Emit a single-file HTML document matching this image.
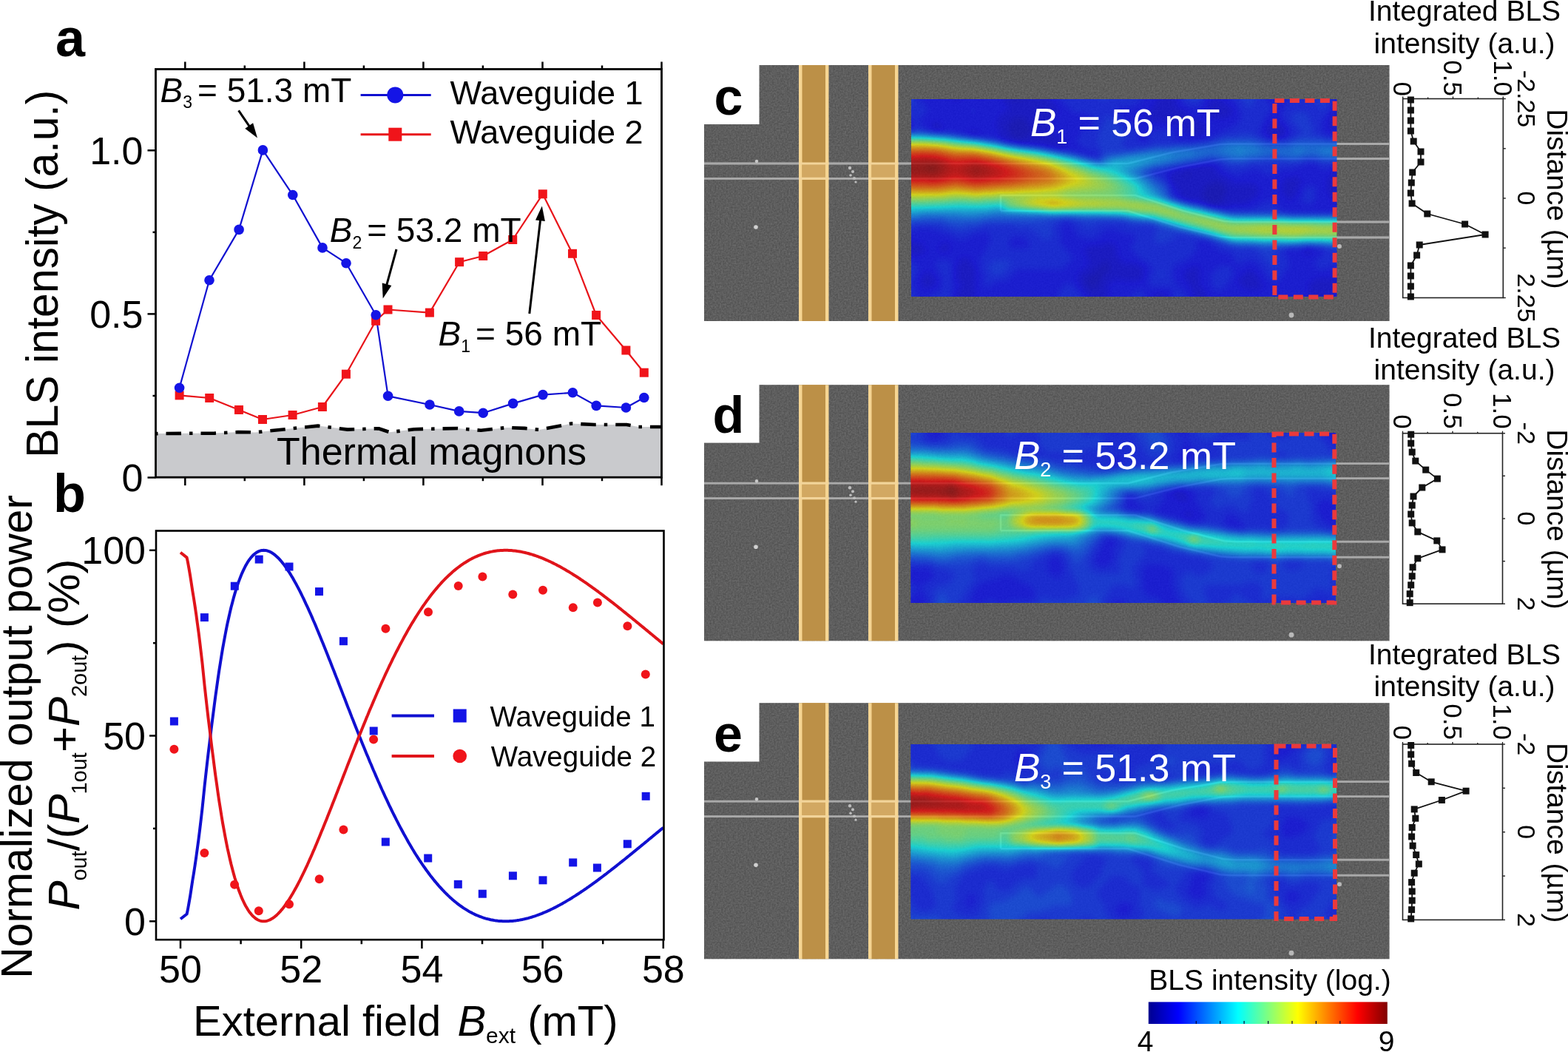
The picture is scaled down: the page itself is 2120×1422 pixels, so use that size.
<!DOCTYPE html>
<html><head><meta charset="utf-8"><title>Figure</title>
<style>html,body{margin:0;padding:0;background:#fff;}svg{display:block;}
text{font-family:'Liberation Sans', Arial, sans-serif;}</style></head>
<body><svg width="2120" height="1422" viewBox="0 0 2120 1422">
<rect width="2120" height="1422" fill="#fff"/>
<polygon points="210.5,586.1 290,585.6 322,584 345,584.4 430,575.6 470,580.6 512,579.2 527,584.3 560,580.2 572.5,579.9 618.8,579 650.3,581.8 685.7,577.9 709.4,578.9 729,580.9 760.6,575 772.4,572.5 803.9,574 847.2,574 863,577 894.5,577 894.5,645 210.5,645" fill="#c9cacd"/>
<polyline points="210.5,586.1 290,585.6 322,584 345,584.4 430,575.6 470,580.6 512,579.2 527,584.3 560,580.2 572.5,579.9 618.8,579 650.3,581.8 685.7,577.9 709.4,578.9 729,580.9 760.6,575 772.4,572.5 803.9,574 847.2,574 863,577 894.5,577" fill="none" stroke="#000" stroke-width="4.6" stroke-linejoin="round" stroke-dasharray="20.5 11 4.5 11" stroke-dashoffset="-14"/>
<text x="374" y="627.6" font-size="52">Thermal magnons</text>
<polyline points="242.6,534.4 283.2,538 323,554 355,567 395.6,561 435.9,550 467.9,505.7 508.1,433.8 524.5,418.5 580.9,422.6 621.1,354.2 653.2,346 693.2,324 733.8,262.3 774,342.8 806.1,426 846.4,473.5 870.8,503.7" fill="none" stroke="#e8141a" stroke-width="2.2" stroke-linejoin="round"/>
<polyline points="242.6,524.3 283,378.7 323.1,310.4 355.4,202.9 395.8,263.5 436,334.9 468,355.7 508.2,425.7 524.6,535.3 581,547 620.7,555.9 653.2,558.2 693.6,545.4 734,533.6 774.3,530.8 806.2,548.4 846.4,551 870.8,537.5" fill="none" stroke="#1010d0" stroke-width="2.2" stroke-linejoin="round"/>
<rect x="236.6" y="528.4" width="12" height="12" fill="#f0141a"/>
<rect x="277.2" y="532" width="12" height="12" fill="#f0141a"/>
<rect x="317" y="548" width="12" height="12" fill="#f0141a"/>
<rect x="349" y="561" width="12" height="12" fill="#f0141a"/>
<rect x="389.6" y="555" width="12" height="12" fill="#f0141a"/>
<rect x="429.9" y="544" width="12" height="12" fill="#f0141a"/>
<rect x="461.9" y="499.7" width="12" height="12" fill="#f0141a"/>
<rect x="502.1" y="427.8" width="12" height="12" fill="#f0141a"/>
<rect x="518.5" y="412.5" width="12" height="12" fill="#f0141a"/>
<rect x="574.9" y="416.6" width="12" height="12" fill="#f0141a"/>
<rect x="615.1" y="348.2" width="12" height="12" fill="#f0141a"/>
<rect x="647.2" y="340" width="12" height="12" fill="#f0141a"/>
<rect x="687.2" y="318" width="12" height="12" fill="#f0141a"/>
<rect x="727.8" y="256.3" width="12" height="12" fill="#f0141a"/>
<rect x="768" y="336.8" width="12" height="12" fill="#f0141a"/>
<rect x="800.1" y="420" width="12" height="12" fill="#f0141a"/>
<rect x="840.4" y="467.5" width="12" height="12" fill="#f0141a"/>
<rect x="864.8" y="497.7" width="12" height="12" fill="#f0141a"/>
<circle cx="242.6" cy="524.3" r="6.8" fill="#1414e6"/>
<circle cx="283" cy="378.7" r="6.8" fill="#1414e6"/>
<circle cx="323.1" cy="310.4" r="6.8" fill="#1414e6"/>
<circle cx="355.4" cy="202.9" r="6.8" fill="#1414e6"/>
<circle cx="395.8" cy="263.5" r="6.8" fill="#1414e6"/>
<circle cx="436" cy="334.9" r="6.8" fill="#1414e6"/>
<circle cx="468" cy="355.7" r="6.8" fill="#1414e6"/>
<circle cx="508.2" cy="425.7" r="6.8" fill="#1414e6"/>
<circle cx="524.6" cy="535.3" r="6.8" fill="#1414e6"/>
<circle cx="581" cy="547" r="6.8" fill="#1414e6"/>
<circle cx="620.7" cy="555.9" r="6.8" fill="#1414e6"/>
<circle cx="653.2" cy="558.2" r="6.8" fill="#1414e6"/>
<circle cx="693.6" cy="545.4" r="6.8" fill="#1414e6"/>
<circle cx="734" cy="533.6" r="6.8" fill="#1414e6"/>
<circle cx="774.3" cy="530.8" r="6.8" fill="#1414e6"/>
<circle cx="806.2" cy="548.4" r="6.8" fill="#1414e6"/>
<circle cx="846.4" cy="551" r="6.8" fill="#1414e6"/>
<circle cx="870.8" cy="537.5" r="6.8" fill="#1414e6"/>
<rect x="210.5" y="93.5" width="684" height="551.7" fill="none" stroke="#000" stroke-width="2.8"/>
<line x1="250.3" y1="645.2" x2="250.3" y2="656.2" stroke="#000" stroke-width="2.5"/>
<line x1="250.3" y1="93.5" x2="250.3" y2="83.5" stroke="#000" stroke-width="2.5"/>
<line x1="330.8" y1="645.2" x2="330.8" y2="650.2" stroke="#000" stroke-width="2.5"/>
<line x1="330.8" y1="93.5" x2="330.8" y2="88.5" stroke="#000" stroke-width="2.5"/>
<line x1="411.4" y1="645.2" x2="411.4" y2="656.2" stroke="#000" stroke-width="2.5"/>
<line x1="411.4" y1="93.5" x2="411.4" y2="83.5" stroke="#000" stroke-width="2.5"/>
<line x1="491.9" y1="645.2" x2="491.9" y2="650.2" stroke="#000" stroke-width="2.5"/>
<line x1="491.9" y1="93.5" x2="491.9" y2="88.5" stroke="#000" stroke-width="2.5"/>
<line x1="572.4" y1="645.2" x2="572.4" y2="656.2" stroke="#000" stroke-width="2.5"/>
<line x1="572.4" y1="93.5" x2="572.4" y2="83.5" stroke="#000" stroke-width="2.5"/>
<line x1="652.9" y1="645.2" x2="652.9" y2="650.2" stroke="#000" stroke-width="2.5"/>
<line x1="652.9" y1="93.5" x2="652.9" y2="88.5" stroke="#000" stroke-width="2.5"/>
<line x1="733.5" y1="645.2" x2="733.5" y2="656.2" stroke="#000" stroke-width="2.5"/>
<line x1="733.5" y1="93.5" x2="733.5" y2="83.5" stroke="#000" stroke-width="2.5"/>
<line x1="814" y1="645.2" x2="814" y2="650.2" stroke="#000" stroke-width="2.5"/>
<line x1="814" y1="93.5" x2="814" y2="88.5" stroke="#000" stroke-width="2.5"/>
<line x1="894.5" y1="645.2" x2="894.5" y2="656.2" stroke="#000" stroke-width="2.5"/>
<line x1="894.5" y1="93.5" x2="894.5" y2="83.5" stroke="#000" stroke-width="2.5"/>
<line x1="210.5" y1="645.5" x2="199.5" y2="645.5" stroke="#000" stroke-width="2.5"/>
<line x1="210.5" y1="535" x2="206.5" y2="535" stroke="#000" stroke-width="2.5"/>
<line x1="210.5" y1="424.4" x2="199.5" y2="424.4" stroke="#000" stroke-width="2.5"/>
<line x1="210.5" y1="313.9" x2="206.5" y2="313.9" stroke="#000" stroke-width="2.5"/>
<line x1="210.5" y1="203.3" x2="199.5" y2="203.3" stroke="#000" stroke-width="2.5"/>
<text x="193.5" y="221.8" font-size="52" text-anchor="end">1.0</text>
<text x="193.5" y="442.9" font-size="52" text-anchor="end">0.5</text>
<text x="193.5" y="664" font-size="52" text-anchor="end">0</text>
<line x1="487.6" y1="128.6" x2="582.7" y2="128.6" stroke="#1010d0" stroke-width="3"/>
<circle cx="534.3" cy="128.4" r="11" fill="#1414e6"/>
<line x1="487.6" y1="181.7" x2="582.7" y2="181.7" stroke="#e8141a" stroke-width="3"/>
<rect x="525.3" y="172.7" width="18" height="18" fill="#f0141a"/>
<text x="608.5" y="140.6" font-size="45">Waveguide 1</text>
<text x="608.5" y="194.2" font-size="45">Waveguide 2</text>
<text x="216.5" y="137.5" font-size="46"><tspan font-style="italic">B</tspan><tspan font-size="23" dy="8.8">3</tspan><tspan dy="-8.8" dx="7">= 51.3 mT</tspan></text>
<text x="445.7" y="326.9" font-size="46"><tspan font-style="italic">B</tspan><tspan font-size="23" dy="8.8">2</tspan><tspan dy="-8.8" dx="7">= 53.2 mT</tspan></text>
<text x="592.6" y="467.4" font-size="46"><tspan font-style="italic">B</tspan><tspan font-size="23" dy="8.8">1</tspan><tspan dy="-8.8" dx="7">= 56 mT</tspan></text>
<line x1="322.6" y1="149.4" x2="337.8" y2="171.6" stroke="#000" stroke-width="3"/>
<polygon points="348,186.5 331.3,173.7 342.1,166.3" fill="#000"/>
<line x1="536" y1="337" x2="522.5" y2="386.1" stroke="#000" stroke-width="3"/>
<polygon points="517.7,403.5 516.7,382.5 529.3,385.9" fill="#000"/>
<line x1="715.8" y1="424" x2="730.7" y2="296.4" stroke="#000" stroke-width="3"/>
<polygon points="732.8,278.5 736.9,299.1 724,297.6" fill="#000"/>
<text x="0" y="0" transform="translate(78 618.7) rotate(-90)" font-size="61" textLength="497" lengthAdjust="spacingAndGlyphs">BLS intensity (a.u.)</text>
<text x="75" y="75.5" font-size="72" font-weight="bold">a</text>
<clipPath id="cb"><rect x="211" y="717.5" width="686.5" height="552.7"/></clipPath>
<g clip-path="url(#cb)">
<polyline points="244,1242.3 252.6,1235.5 253.8,1230 255.4,1221.2 257.1,1211.3 258.7,1200.9 260.3,1190.3 262,1180.1 263.6,1169.7 265.2,1158.8 266.8,1146.9 268.5,1134.6 270.1,1121.7 271.7,1108.2 273.4,1093.6 275,1078 276.6,1062.2 278.3,1047 279.9,1032.7 281.5,1018.9 283.2,1005.4 284.8,992.1 286.4,978.9 288.1,966 289.7,953.4 291.3,941.2 293,929.3 294.6,917.9 296.2,906.9 297.9,896.3 299.5,886.1 301.1,876.4 302.8,867.2 304.4,858.5 306,850.2 307.6,842.2 309.3,834.7 310.9,827.6 312.5,820.8 314.2,814.4 315.8,808.3 317.4,802.6 319.1,797.2 320.7,792.1 322.3,787.4 324,782.9 325.6,778.7 327.2,774.8 328.9,771.1 330.5,767.8 332.1,764.6 333.8,761.8 335.4,759.1 337,756.7 338.7,754.6 340.3,752.6 341.9,750.8 343.6,749.3 345.2,748 346.8,746.8 348.4,745.9 350.1,745.1 351.7,744.5 353.3,744.1 355,743.9 356.6,743.8 358.2,743.9 359.9,744.1 361.5,744.5 363.1,745.1 364.8,745.7 366.4,746.6 368,747.5 369.7,748.6 371.3,749.8 372.9,751.2 374.6,752.7 376.2,754.2 377.8,755.9 379.5,757.8 381.1,759.7 382.7,761.7 384.4,763.8 386,766.1 387.6,768.4 389.2,770.8 390.9,773.3 392.5,775.9 394.1,778.6 395.8,781.3 397.4,784.2 399,787.1 400.7,790.1 402.3,793.1 403.9,796.2 405.6,799.4 407.2,802.7 408.8,806 410.5,809.4 412.1,812.8 413.7,816.3 415.4,819.8 417,823.4 418.6,827 420.3,830.7 421.9,834.4 423.5,838.2 425.2,842 426.8,845.8 428.4,849.7 430,853.6 431.7,857.6 433.3,861.5 434.9,865.5 436.6,869.5 438.2,873.6 439.8,877.6 441.5,881.7 443.1,885.8 444.7,889.9 446.4,894.1 448,898.2 449.6,902.4 451.3,906.6 452.9,910.7 454.5,914.9 456.2,919.1 457.8,923.3 459.4,927.5 461.1,931.7 462.7,935.9 464.3,940.1 466,944.3 467.6,948.5 469.2,952.7 470.8,956.9 472.5,961.1 474.1,965.2 475.7,969.4 477.4,973.5 479,977.7 480.6,981.8 482.3,985.9 483.9,990 485.5,994.1 487.2,998.2 488.8,1002.2 490.4,1006.2 492.1,1010.2 493.7,1014.2 495.3,1018.2 497,1022.1 498.6,1026.1 500.2,1030 501.9,1033.8 503.5,1037.7 505.1,1041.5 506.8,1045.3 508.4,1049.1 510,1052.8 511.6,1056.5 513.3,1060.2 514.9,1063.9 516.5,1067.5 518.2,1071.1 519.8,1074.6 521.4,1078.2 523.1,1081.7 524.7,1085.1 526.3,1088.6 528,1092 529.6,1095.3 531.2,1098.7 532.9,1102 534.5,1105.2 536.1,1108.4 537.8,1111.6 539.4,1114.8 541,1117.9 542.7,1121 544.3,1124 545.9,1127 547.6,1130 549.2,1132.9 550.8,1135.8 552.4,1138.7 554.1,1141.5 555.7,1144.3 557.3,1147 559,1149.7 560.6,1152.4 562.2,1155 563.9,1157.6 565.5,1160.1 567.1,1162.6 568.8,1165.1 570.4,1167.5 572,1169.9 573.7,1172.2 575.3,1174.5 576.9,1176.8 578.6,1179 580.2,1181.2 581.8,1183.4 583.5,1185.5 585.1,1187.5 586.7,1189.6 588.4,1191.6 590,1193.5 591.6,1195.4 593.2,1197.3 594.9,1199.1 596.5,1200.9 598.1,1202.7 599.8,1204.4 601.4,1206.1 603,1207.7 604.7,1209.3 606.3,1210.9 607.9,1212.4 609.6,1213.9 611.2,1215.4 612.8,1216.8 614.5,1218.2 616.1,1219.5 617.7,1220.8 619.4,1222.1 621,1223.3 622.6,1224.5 624.3,1225.7 625.9,1226.8 627.5,1227.9 629.2,1228.9 630.8,1229.9 632.4,1230.9 634,1231.9 635.7,1232.8 637.3,1233.6 638.9,1234.5 640.6,1235.3 642.2,1236.1 643.8,1236.8 645.5,1237.5 647.1,1238.2 648.7,1238.8 650.4,1239.4 652,1240 653.6,1240.6 655.3,1241.1 656.9,1241.6 658.5,1242 660.2,1242.4 661.8,1242.8 663.4,1243.2 665.1,1243.5 666.7,1243.8 668.3,1244.1 670,1244.4 671.6,1244.6 673.2,1244.8 674.8,1244.9 676.5,1245 678.1,1245.1 679.7,1245.2 681.4,1245.3 683,1245.3 684.6,1245.3 686.3,1245.3 687.9,1245.2 689.5,1245.1 691.2,1245 692.8,1244.9 694.4,1244.7 696.1,1244.6 697.7,1244.4 699.3,1244.1 701,1243.9 702.6,1243.6 704.2,1243.3 705.9,1243 707.5,1242.6 709.1,1242.3 710.8,1241.9 712.4,1241.5 714,1241.1 715.6,1240.6 717.3,1240.1 718.9,1239.7 720.5,1239.1 722.2,1238.6 723.8,1238.1 725.4,1237.5 727.1,1236.9 728.7,1236.3 730.3,1235.7 732,1235.1 733.6,1234.4 735.2,1233.7 736.9,1233 738.5,1232.3 740.1,1231.6 741.8,1230.8 743.4,1230.1 745,1229.3 746.7,1228.5 748.3,1227.7 749.9,1226.9 751.6,1226.1 753.2,1225.2 754.8,1224.3 756.4,1223.5 758.1,1222.6 759.7,1221.7 761.3,1220.7 763,1219.8 764.6,1218.9 766.2,1217.9 767.9,1216.9 769.5,1216 771.1,1215 772.8,1214 774.4,1212.9 776,1211.9 777.7,1210.9 779.3,1209.8 780.9,1208.8 782.6,1207.7 784.2,1206.6 785.8,1205.5 787.5,1204.4 789.1,1203.3 790.7,1202.2 792.4,1201.1 794,1199.9 795.6,1198.8 797.2,1197.6 798.9,1196.5 800.5,1195.3 802.1,1194.1 803.8,1193 805.4,1191.8 807,1190.6 808.7,1189.4 810.3,1188.1 811.9,1186.9 813.6,1185.7 815.2,1184.5 816.8,1183.2 818.5,1182 820.1,1180.8 821.7,1179.5 823.4,1178.2 825,1177 826.6,1175.7 828.3,1174.4 829.9,1173.2 831.5,1171.9 833.2,1170.6 834.8,1169.3 836.4,1168 838,1166.7 839.7,1165.4 841.3,1164.1 842.9,1162.8 844.6,1161.5 846.2,1160.2 847.8,1158.9 849.5,1157.5 851.1,1156.2 852.7,1154.9 854.4,1153.6 856,1152.2 857.6,1150.9 859.3,1149.6 860.9,1148.2 862.5,1146.9 864.2,1145.6 865.8,1144.2 867.4,1142.9 869.1,1141.5 870.7,1140.2 872.3,1138.9 874,1137.5 875.6,1136.2 877.2,1134.8 878.8,1133.5 880.5,1132.1 882.1,1130.8 883.7,1129.4 885.4,1128.1 887,1126.7 888.6,1125.4 890.3,1124.1 891.9,1122.7 893.5,1121.4 895.2,1120 896.8,1118.7" fill="none" stroke="#1010d0" stroke-width="4" stroke-linejoin="round"/>
<polyline points="244,746.8 252.6,753.6 253.8,759.1 255.4,767.9 257.1,777.8 258.7,788.2 260.3,798.8 262,809 263.6,819.4 265.2,830.3 266.8,842.2 268.5,854.5 270.1,867.4 271.7,880.9 273.4,895.5 275,911.1 276.6,926.9 278.3,942.1 279.9,956.4 281.5,970.2 283.2,983.7 284.8,997 286.4,1010.2 288.1,1023.1 289.7,1035.7 291.3,1047.9 293,1059.8 294.6,1071.2 296.2,1082.2 297.9,1092.8 299.5,1103 301.1,1112.7 302.8,1121.9 304.4,1130.6 306,1138.9 307.6,1146.9 309.3,1154.4 310.9,1161.5 312.5,1168.3 314.2,1174.7 315.8,1180.8 317.4,1186.5 319.1,1191.9 320.7,1197 322.3,1201.7 324,1206.2 325.6,1210.4 327.2,1214.3 328.9,1218 330.5,1221.3 332.1,1224.5 333.8,1227.3 335.4,1230 337,1232.4 338.7,1234.5 340.3,1236.5 341.9,1238.3 343.6,1239.8 345.2,1241.1 346.8,1242.3 348.4,1243.2 350.1,1244 351.7,1244.6 353.3,1245 355,1245.2 356.6,1245.3 358.2,1245.2 359.9,1245 361.5,1244.6 363.1,1244 364.8,1243.4 366.4,1242.5 368,1241.6 369.7,1240.5 371.3,1239.3 372.9,1237.9 374.6,1236.4 376.2,1234.9 377.8,1233.2 379.5,1231.3 381.1,1229.4 382.7,1227.4 384.4,1225.3 386,1223 387.6,1220.7 389.2,1218.3 390.9,1215.8 392.5,1213.2 394.1,1210.5 395.8,1207.8 397.4,1204.9 399,1202 400.7,1199 402.3,1196 403.9,1192.9 405.6,1189.7 407.2,1186.4 408.8,1183.1 410.5,1179.7 412.1,1176.3 413.7,1172.8 415.4,1169.3 417,1165.7 418.6,1162.1 420.3,1158.4 421.9,1154.7 423.5,1150.9 425.2,1147.1 426.8,1143.3 428.4,1139.4 430,1135.5 431.7,1131.5 433.3,1127.6 434.9,1123.6 436.6,1119.6 438.2,1115.5 439.8,1111.5 441.5,1107.4 443.1,1103.3 444.7,1099.2 446.4,1095 448,1090.9 449.6,1086.7 451.3,1082.5 452.9,1078.4 454.5,1074.2 456.2,1070 457.8,1065.8 459.4,1061.6 461.1,1057.4 462.7,1053.2 464.3,1049 466,1044.8 467.6,1040.6 469.2,1036.4 470.8,1032.2 472.5,1028 474.1,1023.9 475.7,1019.7 477.4,1015.6 479,1011.4 480.6,1007.3 482.3,1003.2 483.9,999.1 485.5,995 487.2,990.9 488.8,986.9 490.4,982.9 492.1,978.9 493.7,974.9 495.3,970.9 497,967 498.6,963 500.2,959.1 501.9,955.3 503.5,951.4 505.1,947.6 506.8,943.8 508.4,940 510,936.3 511.6,932.6 513.3,928.9 514.9,925.2 516.5,921.6 518.2,918 519.8,914.5 521.4,910.9 523.1,907.4 524.7,904 526.3,900.5 528,897.1 529.6,893.8 531.2,890.4 532.9,887.1 534.5,883.9 536.1,880.7 537.8,877.5 539.4,874.3 541,871.2 542.7,868.1 544.3,865.1 545.9,862.1 547.6,859.1 549.2,856.2 550.8,853.3 552.4,850.4 554.1,847.6 555.7,844.8 557.3,842.1 559,839.4 560.6,836.7 562.2,834.1 563.9,831.5 565.5,829 567.1,826.5 568.8,824 570.4,821.6 572,819.2 573.7,816.9 575.3,814.6 576.9,812.3 578.6,810.1 580.2,807.9 581.8,805.7 583.5,803.6 585.1,801.6 586.7,799.5 588.4,797.5 590,795.6 591.6,793.7 593.2,791.8 594.9,790 596.5,788.2 598.1,786.4 599.8,784.7 601.4,783 603,781.4 604.7,779.8 606.3,778.2 607.9,776.7 609.6,775.2 611.2,773.7 612.8,772.3 614.5,770.9 616.1,769.6 617.7,768.3 619.4,767 621,765.8 622.6,764.6 624.3,763.4 625.9,762.3 627.5,761.2 629.2,760.2 630.8,759.2 632.4,758.2 634,757.2 635.7,756.3 637.3,755.5 638.9,754.6 640.6,753.8 642.2,753 643.8,752.3 645.5,751.6 647.1,750.9 648.7,750.3 650.4,749.7 652,749.1 653.6,748.5 655.3,748 656.9,747.5 658.5,747.1 660.2,746.7 661.8,746.3 663.4,745.9 665.1,745.6 666.7,745.3 668.3,745 670,744.7 671.6,744.5 673.2,744.3 674.8,744.2 676.5,744.1 678.1,744 679.7,743.9 681.4,743.8 683,743.8 684.6,743.8 686.3,743.8 687.9,743.9 689.5,744 691.2,744.1 692.8,744.2 694.4,744.4 696.1,744.5 697.7,744.7 699.3,745 701,745.2 702.6,745.5 704.2,745.8 705.9,746.1 707.5,746.5 709.1,746.8 710.8,747.2 712.4,747.6 714,748 715.6,748.5 717.3,749 718.9,749.4 720.5,750 722.2,750.5 723.8,751 725.4,751.6 727.1,752.2 728.7,752.8 730.3,753.4 732,754 733.6,754.7 735.2,755.4 736.9,756.1 738.5,756.8 740.1,757.5 741.8,758.3 743.4,759 745,759.8 746.7,760.6 748.3,761.4 749.9,762.2 751.6,763 753.2,763.9 754.8,764.8 756.4,765.6 758.1,766.5 759.7,767.4 761.3,768.4 763,769.3 764.6,770.2 766.2,771.2 767.9,772.2 769.5,773.1 771.1,774.1 772.8,775.1 774.4,776.2 776,777.2 777.7,778.2 779.3,779.3 780.9,780.3 782.6,781.4 784.2,782.5 785.8,783.6 787.5,784.7 789.1,785.8 790.7,786.9 792.4,788 794,789.2 795.6,790.3 797.2,791.5 798.9,792.6 800.5,793.8 802.1,795 803.8,796.1 805.4,797.3 807,798.5 808.7,799.7 810.3,801 811.9,802.2 813.6,803.4 815.2,804.6 816.8,805.9 818.5,807.1 820.1,808.3 821.7,809.6 823.4,810.9 825,812.1 826.6,813.4 828.3,814.7 829.9,815.9 831.5,817.2 833.2,818.5 834.8,819.8 836.4,821.1 838,822.4 839.7,823.7 841.3,825 842.9,826.3 844.6,827.6 846.2,828.9 847.8,830.2 849.5,831.6 851.1,832.9 852.7,834.2 854.4,835.5 856,836.9 857.6,838.2 859.3,839.5 860.9,840.9 862.5,842.2 864.2,843.5 865.8,844.9 867.4,846.2 869.1,847.6 870.7,848.9 872.3,850.2 874,851.6 875.6,852.9 877.2,854.3 878.8,855.6 880.5,857 882.1,858.3 883.7,859.7 885.4,861 887,862.4 888.6,863.7 890.3,865 891.9,866.4 893.5,867.7 895.2,869.1 896.8,870.4" fill="none" stroke="#e0141a" stroke-width="4" stroke-linejoin="round"/>
</g>
<rect x="229.9" y="969.5" width="11" height="11" fill="#1414e6"/>
<rect x="270.9" y="829.1" width="11" height="11" fill="#1414e6"/>
<rect x="311.8" y="786.7" width="11" height="11" fill="#1414e6"/>
<rect x="344.7" y="750.6" width="11" height="11" fill="#1414e6"/>
<rect x="385.5" y="760.5" width="11" height="11" fill="#1414e6"/>
<rect x="426" y="794.1" width="11" height="11" fill="#1414e6"/>
<rect x="458.9" y="861.2" width="11" height="11" fill="#1414e6"/>
<rect x="499.7" y="982.5" width="11" height="11" fill="#1414e6"/>
<rect x="515.8" y="1132.5" width="11" height="11" fill="#1414e6"/>
<rect x="573.2" y="1154.5" width="11" height="11" fill="#1414e6"/>
<rect x="613.8" y="1189.8" width="11" height="11" fill="#1414e6"/>
<rect x="646.8" y="1202.7" width="11" height="11" fill="#1414e6"/>
<rect x="687.9" y="1178.3" width="11" height="11" fill="#1414e6"/>
<rect x="728.5" y="1184.3" width="11" height="11" fill="#1414e6"/>
<rect x="769.2" y="1160.4" width="11" height="11" fill="#1414e6"/>
<rect x="801.9" y="1167.5" width="11" height="11" fill="#1414e6"/>
<rect x="842.8" y="1135.3" width="11" height="11" fill="#1414e6"/>
<rect x="867.7" y="1070.8" width="11" height="11" fill="#1414e6"/>
<circle cx="235.4" cy="1012.8" r="6" fill="#f0141a"/>
<circle cx="276.4" cy="1153.1" r="6" fill="#f0141a"/>
<circle cx="317.1" cy="1195.7" r="6" fill="#f0141a"/>
<circle cx="349.8" cy="1231.2" r="6" fill="#f0141a"/>
<circle cx="391" cy="1222.3" r="6" fill="#f0141a"/>
<circle cx="431.7" cy="1188.3" r="6" fill="#f0141a"/>
<circle cx="464.4" cy="1121.4" r="6" fill="#f0141a"/>
<circle cx="505.1" cy="999.6" r="6" fill="#f0141a"/>
<circle cx="521.4" cy="849.8" r="6" fill="#f0141a"/>
<circle cx="579" cy="827.2" r="6" fill="#f0141a"/>
<circle cx="619.7" cy="792" r="6" fill="#f0141a"/>
<circle cx="652.4" cy="779.5" r="6" fill="#f0141a"/>
<circle cx="693.3" cy="803.4" r="6" fill="#f0141a"/>
<circle cx="734" cy="797.7" r="6" fill="#f0141a"/>
<circle cx="774.8" cy="821.3" r="6" fill="#f0141a"/>
<circle cx="807.9" cy="814.5" r="6" fill="#f0141a"/>
<circle cx="848.4" cy="846.2" r="6" fill="#f0141a"/>
<circle cx="872.8" cy="911.6" r="6" fill="#f0141a"/>
<rect x="211" y="717.5" width="686.5" height="552.7" fill="none" stroke="#000" stroke-width="2.6"/>
<line x1="244" y1="1270.2" x2="244" y2="1282.2" stroke="#000" stroke-width="2.5"/>
<text x="244" y="1327.5" font-size="52" text-anchor="middle">50</text>
<line x1="325.6" y1="1270.2" x2="325.6" y2="1276.2" stroke="#000" stroke-width="2.5"/>
<line x1="407.2" y1="1270.2" x2="407.2" y2="1282.2" stroke="#000" stroke-width="2.5"/>
<text x="407.2" y="1327.5" font-size="52" text-anchor="middle">52</text>
<line x1="488.8" y1="1270.2" x2="488.8" y2="1276.2" stroke="#000" stroke-width="2.5"/>
<line x1="570.4" y1="1270.2" x2="570.4" y2="1282.2" stroke="#000" stroke-width="2.5"/>
<text x="570.4" y="1327.5" font-size="52" text-anchor="middle">54</text>
<line x1="652" y1="1270.2" x2="652" y2="1276.2" stroke="#000" stroke-width="2.5"/>
<line x1="733.6" y1="1270.2" x2="733.6" y2="1282.2" stroke="#000" stroke-width="2.5"/>
<text x="733.6" y="1327.5" font-size="52" text-anchor="middle">56</text>
<line x1="815.2" y1="1270.2" x2="815.2" y2="1276.2" stroke="#000" stroke-width="2.5"/>
<line x1="896.8" y1="1270.2" x2="896.8" y2="1282.2" stroke="#000" stroke-width="2.5"/>
<text x="896.8" y="1327.5" font-size="52" text-anchor="middle">58</text>
<line x1="211" y1="1245.3" x2="202" y2="1245.3" stroke="#000" stroke-width="2.5"/>
<line x1="211" y1="1119.9" x2="207" y2="1119.9" stroke="#000" stroke-width="2.5"/>
<line x1="211" y1="994.5" x2="202" y2="994.5" stroke="#000" stroke-width="2.5"/>
<line x1="211" y1="869.2" x2="207" y2="869.2" stroke="#000" stroke-width="2.5"/>
<line x1="211" y1="743.8" x2="202" y2="743.8" stroke="#000" stroke-width="2.5"/>
<text x="197" y="1263.8" font-size="52" text-anchor="end">0</text>
<text x="197" y="1013" font-size="52" text-anchor="end">50</text>
<text x="197" y="762.3" font-size="52" text-anchor="end">100</text>
<line x1="529.6" y1="967.5" x2="587" y2="967.5" stroke="#1010d0" stroke-width="4"/>
<rect x="612.7" y="958.5" width="18" height="18" fill="#1414e6"/>
<line x1="529.6" y1="1022" x2="587" y2="1022" stroke="#e0141a" stroke-width="4"/>
<circle cx="621.7" cy="1022" r="9.3" fill="#f0141a"/>
<text x="662.5" y="981.6" font-size="38.5">Waveguide 1</text>
<text x="663.8" y="1035.6" font-size="38.5">Waveguide 2</text>
<text x="261" y="1400" font-size="58">External field <tspan font-style="italic" dx="6">B</tspan><tspan font-size="30" dy="10">ext</tspan><tspan dy="-10"> (mT)</tspan></text>
<text x="0" y="0" transform="translate(42.5 1322.7) rotate(-90)" font-size="60" textLength="653.7" lengthAdjust="spacingAndGlyphs">Normalized output power</text>
<text x="0" y="0" transform="translate(107 1230.6) rotate(-90)" font-size="60"><tspan font-style="italic">P</tspan><tspan font-size="29" dy="10">out</tspan><tspan dy="-10">/(</tspan><tspan font-style="italic">P</tspan><tspan font-size="29" dy="10">1out</tspan><tspan dy="-10">+</tspan><tspan font-style="italic">P</tspan><tspan font-size="29" dy="10">2out</tspan><tspan dy="-10">) (%)</tspan></text>
<text x="72" y="692" font-size="72" font-weight="bold">b</text>
<defs><filter id="jet" x="-5%" y="-5%" width="110%" height="110%" color-interpolation-filters="sRGB"><feGaussianBlur stdDeviation="4.5"/><feComponentTransfer><feFuncR type="table" tableValues="0 0 0 0 0.5 1 1 1 0.5"/><feFuncG type="table" tableValues="0 0 0.5 1 1 1 0.5 0 0"/><feFuncB type="table" tableValues="0.5 1 1 1 0.5 0 0 0 0"/><feFuncA type="linear" slope="0" intercept="1"/></feComponentTransfer></filter><linearGradient id="cbar" x1="0" x2="1" y1="0" y2="0"><stop offset="0" stop-color="#00008f"/><stop offset="0.125" stop-color="#0000ff"/><stop offset="0.375" stop-color="#00ffff"/><stop offset="0.625" stop-color="#ffff00"/><stop offset="0.875" stop-color="#ff0000"/><stop offset="1" stop-color="#800000"/></linearGradient><filter id="grain" x="0" y="0" width="100%" height="100%" color-interpolation-filters="sRGB"><feTurbulence type="fractalNoise" baseFrequency="0.45" numOctaves="2" seed="4"/><feColorMatrix type="matrix" values="1 0 0 0 0  1 0 0 0 0  1 0 0 0 0  0 0 0 0 0.16"/></filter></defs>
<rect x="952" y="88" width="926.5" height="346" fill="#575757"/>
<rect x="952" y="88" width="926.5" height="346" filter="url(#grain)"/>
<polyline points="952,221 1525,221 1585,206 1650,195 1665,194.5 1878.5,194.5" fill="none" stroke="#8e8e8e" stroke-width="2.6" stroke-linejoin="round"/>
<polyline points="952,241.4 1535,241.4 1595,226 1650,215.5 1665,214.5 1878.5,214.5" fill="none" stroke="#8e8e8e" stroke-width="2.6" stroke-linejoin="round"/>
<polyline points="1353,285 1353,264 1535,264 1600,285 1655,299 1670,300 1878.5,300" fill="none" stroke="#8e8e8e" stroke-width="2.6" stroke-linejoin="round"/>
<polyline points="1353,285 1525,285 1595,307 1650,320 1665,321 1878.5,321" fill="none" stroke="#8e8e8e" stroke-width="2.6" stroke-linejoin="round"/>
<line x1="952" y1="221" x2="1232" y2="221" stroke="#a9a9a9" stroke-width="2.8"/>
<line x1="952" y1="241.4" x2="1232" y2="241.4" stroke="#a9a9a9" stroke-width="2.8"/>
<line x1="1807" y1="194.5" x2="1878.5" y2="194.5" stroke="#a9a9a9" stroke-width="2.8"/>
<line x1="1807" y1="214.5" x2="1878.5" y2="214.5" stroke="#a9a9a9" stroke-width="2.8"/>
<line x1="1807" y1="300" x2="1878.5" y2="300" stroke="#a9a9a9" stroke-width="2.8"/>
<line x1="1807" y1="321" x2="1878.5" y2="321" stroke="#a9a9a9" stroke-width="2.8"/>
<rect x="1080" y="88" width="40.5" height="346" fill="#f6d592"/>
<rect x="1084.5" y="88" width="31.5" height="346" fill="#bc9047"/>
<rect x="1084.5" y="222" width="31.5" height="18.4" fill="#d2a862"/>
<line x1="1080" y1="221" x2="1120.5" y2="221" stroke="#f2d49a" stroke-width="3.2"/>
<line x1="1080" y1="241.4" x2="1120.5" y2="241.4" stroke="#f2d49a" stroke-width="3.2"/>
<rect x="1174" y="88" width="40.5" height="346" fill="#f6d592"/>
<rect x="1178.5" y="88" width="31.5" height="346" fill="#bc9047"/>
<rect x="1178.5" y="222" width="31.5" height="18.4" fill="#d2a862"/>
<line x1="1174" y1="221" x2="1214.5" y2="221" stroke="#f2d49a" stroke-width="3.2"/>
<line x1="1174" y1="241.4" x2="1214.5" y2="241.4" stroke="#f2d49a" stroke-width="3.2"/>
<circle cx="1022" cy="307" r="2.8" fill="#d0d0d0"/>
<circle cx="1023" cy="218" r="2.2" fill="#c8c8c8"/>
<circle cx="1149" cy="227" r="2.2" fill="#bdbdbd"/>
<circle cx="1153" cy="232" r="2" fill="#bdbdbd"/>
<circle cx="1150" cy="237" r="1.8" fill="#bdbdbd"/>
<circle cx="1155" cy="241" r="2" fill="#bdbdbd"/>
<circle cx="1157" cy="246" r="1.6" fill="#bdbdbd"/>
<circle cx="1746" cy="426" r="3.4" fill="#b8b8b8"/>
<circle cx="1811" cy="333" r="3" fill="#b8b8b8"/>
<rect x="951" y="87" width="75.5" height="81" fill="#fff"/>
<clipPath id="hc0"><rect x="1232" y="134" width="575.5" height="267"/></clipPath>
<g clip-path="url(#hc0)" opacity="0.7"><g filter="url(#jet)">
<rect x="1202" y="104" width="635.5" height="327" fill="#1a1a1a"/>
<g fill="none"><path stroke="#161616" stroke-width="4.6" d="M1362 126h32M1362 130h28M1370 134h8M1814 146h4M1814 150h4M1810 154h8M1810 158h8M1370 162h16M1366 166h24M1362 170h28M1362 174h32M1366 178h28M1366 182h28M1370 186h16M1602 234h8M1814 234h4M1602 238h4M1810 238h8M1810 242h8M1642 246h4M1806 246h12M1634 250h20M1810 250h8M1630 254h28M1814 254h4M1626 258h32M1626 262h32M1626 266h28M1630 270h24M1634 274h16M1494 354h4M1490 358h8M1486 362h16M1482 366h16M1474 370h20M1470 374h20M1466 378h24M1466 382h20M1470 386h16M1474 390h8"/><path stroke="#1b1b1b" stroke-width="4.6" d="M1286 126h16M1318 126h12M1354 126h8M1394 126h20M1566 126h24M1810 126h8M1286 130h16M1322 130h8M1354 130h8M1390 130h28M1566 130h24M1810 130h8M1286 134h12M1354 134h16M1378 134h40M1566 134h24M1638 134h8M1810 134h8M1358 138h64M1562 138h28M1634 138h20M1810 138h8M1362 142h64M1562 142h28M1634 142h24M1806 142h12M1362 146h68M1558 146h36M1630 146h36M1806 146h8M1362 150h68M1554 150h48M1630 150h36M1806 150h8M1354 154h76M1550 154h56M1630 154h36M1802 154h8M1350 158h76M1546 158h64M1634 158h28M1798 158h12M1350 162h20M1386 162h40M1546 162h76M1798 162h20M1262 166h8M1346 166h20M1390 166h32M1574 166h52M1718 166h8M1798 166h20M1258 170h16M1346 170h16M1390 170h32M1590 170h40M1714 170h20M1798 170h20M1262 174h12M1350 174h12M1394 174h28M1598 174h32M1714 174h24M1798 174h20M1306 178h16M1350 178h16M1394 178h28M1602 178h28M1710 178h28M1314 182h12M1350 182h16M1394 182h36M1606 182h24M1714 182h24M1354 186h16M1386 186h52M1614 186h4M1718 186h16M1358 190h84M1374 194h68M1414 198h28M1434 202h4M1606 226h36M1814 226h4M1590 230h56M1806 230h12M1582 234h20M1610 234h36M1802 234h12M1582 238h20M1606 238h48M1750 238h4M1798 238h12M1582 242h80M1738 242h20M1794 242h16M1582 246h60M1646 246h20M1734 246h24M1794 246h12M1586 250h48M1654 250h44M1734 250h24M1794 250h16M1590 254h40M1658 254h44M1734 254h20M1794 254h20M1594 258h32M1658 258h44M1734 258h20M1794 258h24M1594 262h32M1658 262h44M1734 262h20M1798 262h20M1594 266h32M1654 266h44M1738 266h12M1798 266h20M1602 270h28M1654 270h40M1742 270h4M1802 270h16M1622 274h12M1650 274h36M1802 274h16M1634 278h28M1806 278h12M1222 326h12M1222 330h24M1274 330h8M1490 330h16M1222 334h28M1270 334h16M1470 334h40M1222 338h28M1270 338h12M1466 338h44M1762 338h12M1222 342h28M1466 342h44M1762 342h12M1470 346h40M1298 350h12M1470 350h44M1298 354h16M1474 354h20M1498 354h20M1294 358h20M1470 358h20M1498 358h40M1294 362h24M1470 362h16M1502 362h44M1610 362h12M1294 366h24M1462 366h20M1498 366h48M1602 366h20M1686 366h8M1250 370h8M1294 370h24M1458 370h16M1494 370h52M1602 370h20M1682 370h16M1246 374h16M1294 374h24M1458 374h12M1490 374h56M1602 374h20M1678 374h24M1810 374h8M1246 378h20M1294 378h24M1458 378h8M1490 378h20M1514 378h28M1602 378h20M1674 378h28M1778 378h40M1246 382h20M1298 382h20M1458 382h8M1486 382h16M1606 382h16M1674 382h32M1770 382h48M1246 386h16M1298 386h20M1462 386h8M1486 386h12M1610 386h12M1678 386h28M1770 386h48M1250 390h4M1298 390h20M1462 390h12M1482 390h16M1610 390h16M1682 390h24M1770 390h48M1294 394h24M1466 394h32M1614 394h16M1770 394h40M1294 398h24M1470 398h28M1562 398h12M1614 398h16M1770 398h28M1294 402h24M1474 402h24M1558 402h20M1614 402h20M1766 402h28M1298 406h20M1474 406h24M1558 406h20M1614 406h24M1766 406h24M1298 410h20M1478 410h20M1554 410h24M1614 410h24M1766 410h24"/><path stroke="#212121" stroke-width="4.6" d="M1238 126h48M1302 126h16M1330 126h24M1414 126h12M1546 126h20M1590 126h4M1630 126h28M1710 126h32M1802 126h8M1238 130h48M1302 130h20M1330 130h24M1418 130h12M1546 130h20M1590 130h8M1630 130h32M1710 130h32M1802 130h8M1242 134h44M1298 134h56M1418 134h16M1542 134h24M1590 134h8M1630 134h8M1646 134h20M1710 134h32M1802 134h8M1246 138h112M1422 138h16M1542 138h20M1590 138h8M1626 138h8M1654 138h16M1714 138h28M1802 138h8M1250 142h112M1426 142h16M1534 142h28M1590 142h16M1622 142h12M1658 142h16M1718 142h20M1802 142h4M1254 146h108M1430 146h16M1510 146h48M1594 146h36M1666 146h8M1718 146h20M1798 146h8M1254 150h60M1318 150h44M1430 150h20M1510 150h44M1602 150h28M1666 150h12M1718 150h16M1798 150h8M1250 154h104M1430 154h40M1514 154h36M1606 154h24M1666 154h12M1714 154h20M1794 154h8M1246 158h104M1426 158h52M1514 158h32M1610 158h24M1662 158h16M1710 158h24M1790 158h8M1222 162h12M1242 162h108M1426 162h52M1518 162h28M1622 162h56M1710 162h28M1786 162h12M1222 166h16M1242 166h20M1270 166h76M1422 166h56M1522 166h52M1626 166h48M1706 166h12M1726 166h12M1786 166h12M1222 170h16M1246 170h12M1274 170h72M1422 170h56M1530 170h60M1630 170h40M1706 170h8M1734 170h8M1786 170h12M1222 174h12M1250 174h12M1274 174h76M1422 174h52M1534 174h64M1630 174h32M1702 174h12M1738 174h8M1786 174h12M1258 178h48M1322 178h28M1422 178h40M1538 178h20M1582 178h20M1630 178h24M1702 178h8M1738 178h8M1786 178h32M1294 182h20M1326 182h24M1430 182h32M1538 182h16M1586 182h20M1630 182h16M1706 182h8M1738 182h8M1790 182h28M1322 186h32M1438 186h20M1538 186h16M1586 186h28M1618 186h20M1710 186h8M1734 186h8M1350 190h8M1442 190h16M1538 190h16M1586 190h44M1362 194h12M1442 194h16M1398 198h16M1442 198h20M1422 202h12M1438 202h32M1446 206h36M1466 210h20M1618 222h32M1762 222h20M1810 222h8M1590 226h16M1642 226h12M1750 226h36M1798 226h16M1578 230h12M1646 230h12M1690 230h12M1730 230h76M1570 234h12M1646 234h20M1678 234h32M1722 234h80M1574 238h8M1654 238h96M1754 238h44M1578 242h4M1662 242h76M1758 242h36M1666 246h68M1758 246h36M1582 250h4M1698 250h36M1758 250h36M1582 254h8M1702 254h32M1754 254h12M1778 254h16M1582 258h12M1702 258h32M1754 258h8M1778 258h16M1582 262h12M1702 262h32M1754 262h8M1778 262h20M1586 266h8M1698 266h40M1750 266h12M1778 266h20M1594 270h8M1694 270h48M1746 270h12M1778 270h24M1610 274h12M1686 274h24M1722 274h40M1774 274h28M1626 278h8M1662 278h40M1726 278h80M1642 282h52M1730 282h88M1734 286h84M1438 302h8M1434 306h16M1238 310h24M1434 310h20M1498 310h8M1230 314h44M1326 314h8M1434 314h20M1490 314h28M1222 318h64M1314 318h24M1434 318h24M1486 318h48M1222 322h72M1306 322h32M1366 322h20M1434 322h36M1478 322h56M1234 326h104M1366 326h24M1434 326h100M1618 326h16M1246 330h28M1282 330h56M1362 330h32M1434 330h56M1506 330h24M1618 330h24M1250 334h20M1286 334h48M1366 334h24M1438 334h32M1510 334h20M1618 334h24M1762 334h16M1250 338h20M1282 338h52M1442 338h24M1510 338h20M1618 338h32M1738 338h24M1774 338h16M1250 342h80M1446 342h20M1510 342h24M1614 342h48M1738 342h24M1774 342h16M1222 346h104M1450 346h20M1510 346h28M1610 346h56M1738 346h48M1226 350h72M1310 350h16M1450 350h20M1514 350h28M1606 350h64M1742 350h40M1234 354h32M1286 354h12M1314 354h12M1446 354h28M1518 354h32M1598 354h72M1682 354h16M1742 354h36M1238 358h28M1286 358h8M1314 358h12M1442 358h28M1538 358h16M1590 358h112M1742 358h36M1806 358h12M1242 362h24M1286 362h8M1318 362h8M1438 362h32M1546 362h12M1586 362h24M1622 362h24M1666 362h40M1742 362h40M1794 362h24M1242 366h28M1286 366h8M1318 366h8M1374 366h88M1546 366h12M1586 366h16M1622 366h20M1666 366h20M1694 366h16M1738 366h80M1238 370h12M1258 370h12M1286 370h8M1318 370h12M1370 370h88M1546 370h8M1586 370h16M1622 370h16M1666 370h16M1698 370h12M1734 370h84M1238 374h8M1262 374h12M1286 374h8M1318 374h12M1366 374h92M1546 374h8M1586 374h16M1622 374h16M1666 374h12M1702 374h12M1734 374h76M1234 378h12M1266 378h8M1286 378h8M1318 378h12M1362 378h96M1510 378h4M1542 378h12M1586 378h16M1622 378h16M1662 378h12M1702 378h16M1730 378h48M1234 382h12M1266 382h8M1286 382h12M1318 382h12M1346 382h112M1502 382h52M1590 382h16M1622 382h16M1662 382h12M1706 382h64M1234 386h12M1262 386h12M1286 386h12M1318 386h12M1338 386h100M1450 386h12M1498 386h56M1590 386h20M1622 386h16M1658 386h20M1706 386h64M1234 390h16M1254 390h20M1286 390h12M1318 390h116M1454 390h8M1498 390h88M1594 390h16M1626 390h16M1654 390h28M1706 390h64M1238 394h32M1286 394h8M1318 394h116M1458 394h8M1498 394h40M1546 394h40M1598 394h16M1630 394h140M1810 394h8M1238 398h24M1286 398h8M1318 398h112M1462 398h8M1498 398h32M1546 398h16M1574 398h12M1602 398h12M1630 398h140M1798 398h20M1242 402h16M1286 402h8M1318 402h112M1462 402h12M1498 402h32M1546 402h12M1578 402h8M1606 402h8M1634 402h132M1794 402h24M1242 406h12M1286 406h12M1318 406h88M1418 406h12M1466 406h8M1498 406h28M1546 406h12M1578 406h8M1606 406h8M1638 406h32M1678 406h32M1734 406h32M1790 406h16M1242 410h12M1286 410h12M1318 410h80M1426 410h4M1466 410h12M1498 410h28M1546 410h8M1578 410h8M1606 410h8M1638 410h28M1682 410h24M1742 410h24M1790 410h12"/><path stroke="#262626" stroke-width="4.6" d="M1230 126h8M1426 126h52M1522 126h24M1594 126h8M1626 126h4M1658 126h16M1698 126h12M1742 126h40M1794 126h8M1234 130h4M1430 130h52M1502 130h44M1598 130h4M1622 130h8M1662 130h16M1698 130h12M1742 130h40M1794 130h8M1234 134h8M1434 134h56M1494 134h48M1598 134h8M1622 134h8M1666 134h12M1698 134h12M1742 134h40M1794 134h8M1234 138h12M1438 138h104M1598 138h28M1670 138h12M1694 138h20M1742 138h40M1794 138h8M1234 142h16M1442 142h92M1606 142h16M1674 142h12M1694 142h24M1738 142h44M1794 142h8M1230 146h24M1446 146h64M1674 146h44M1738 146h48M1790 146h8M1222 150h32M1314 150h4M1450 150h60M1678 150h40M1734 150h64M1222 154h28M1470 154h44M1678 154h36M1734 154h16M1766 154h28M1222 158h24M1478 158h16M1498 158h16M1678 158h32M1734 158h12M1770 158h20M1234 162h8M1478 162h16M1506 162h12M1678 162h32M1738 162h8M1770 162h16M1238 166h4M1478 166h16M1510 166h12M1674 166h32M1738 166h12M1770 166h16M1238 170h8M1478 170h12M1514 170h16M1670 170h36M1742 170h12M1774 170h12M1234 174h16M1474 174h16M1514 174h20M1662 174h40M1746 174h12M1774 174h12M1222 178h16M1246 178h12M1462 178h24M1518 178h20M1558 178h24M1654 178h48M1746 178h12M1774 178h12M1286 182h8M1462 182h24M1522 182h16M1554 182h32M1646 182h28M1694 182h12M1746 182h12M1774 182h16M1310 186h12M1458 186h28M1522 186h16M1554 186h32M1638 186h16M1698 186h12M1742 186h12M1786 186h32M1342 190h8M1458 190h24M1518 190h20M1554 190h32M1630 190h12M1710 190h32M1358 194h4M1458 194h28M1518 194h96M1386 198h12M1462 198h24M1518 198h40M1414 202h8M1470 202h20M1522 202h12M1438 206h8M1482 206h8M1458 210h8M1486 210h4M1474 214h16M1630 218h16M1762 218h20M1602 222h16M1650 222h8M1686 222h76M1782 222h28M1582 226h8M1654 226h96M1786 226h12M1558 230h20M1658 230h32M1702 230h28M1558 234h12M1666 234h12M1710 234h12M1562 238h12M1570 242h8M1574 246h8M1578 250h4M1766 254h12M1762 258h16M1762 262h16M1582 266h4M1762 266h16M1590 270h4M1758 270h20M1602 274h8M1710 274h12M1762 274h12M1622 278h4M1702 278h24M1634 282h8M1694 282h36M1654 286h80M1742 290h60M1430 298h24M1426 302h12M1446 302h16M1486 302h40M1230 306h44M1326 306h48M1422 306h12M1450 306h16M1478 306h84M1222 310h16M1262 310h24M1314 310h80M1422 310h12M1454 310h44M1506 310h60M1222 314h8M1274 314h52M1334 314h68M1422 314h12M1454 314h36M1518 314h44M1286 318h28M1338 318h68M1422 318h12M1458 318h28M1534 318h28M1590 318h28M1294 322h12M1338 322h28M1386 322h24M1418 322h16M1470 322h8M1534 322h28M1586 322h48M1338 326h28M1390 326h44M1534 326h28M1578 326h40M1634 326h8M1338 330h24M1394 330h40M1530 330h88M1642 330h12M1334 334h32M1390 334h48M1530 334h88M1642 334h28M1738 334h24M1778 334h12M1334 338h108M1530 338h88M1650 338h48M1726 338h12M1790 338h28M1330 342h116M1534 342h80M1662 342h40M1722 342h16M1790 342h28M1326 346h124M1538 346h72M1666 346h40M1726 346h12M1786 346h32M1222 350h4M1326 350h124M1542 350h64M1670 350h40M1726 350h16M1782 350h36M1222 354h12M1266 354h20M1326 354h16M1366 354h80M1550 354h48M1670 354h12M1698 354h16M1726 354h16M1778 354h40M1226 358h12M1266 358h20M1326 358h12M1366 358h76M1554 358h36M1702 358h16M1726 358h16M1778 358h28M1230 362h12M1266 362h20M1326 362h12M1362 362h76M1558 362h28M1646 362h20M1706 362h36M1782 362h12M1230 366h12M1270 366h16M1326 366h12M1358 366h16M1558 366h28M1642 366h24M1710 366h28M1230 370h8M1270 370h16M1330 370h12M1354 370h16M1554 370h12M1574 370h12M1638 370h28M1710 370h24M1230 374h8M1274 374h12M1330 374h36M1554 374h32M1638 374h28M1714 374h20M1222 378h12M1274 378h12M1330 378h32M1554 378h32M1638 378h24M1718 378h12M1222 382h12M1274 382h12M1330 382h16M1554 382h36M1638 382h24M1222 386h12M1274 386h12M1330 386h8M1438 386h12M1554 386h36M1638 386h20M1222 390h12M1274 390h12M1434 390h20M1586 390h8M1642 390h12M1222 394h16M1270 394h16M1434 394h24M1538 394h8M1586 394h12M1226 398h12M1262 398h24M1430 398h32M1530 398h16M1586 398h16M1230 402h12M1258 402h28M1430 402h32M1530 402h16M1586 402h20M1230 406h12M1254 406h32M1406 406h12M1430 406h36M1526 406h20M1586 406h20M1670 406h8M1710 406h24M1806 406h12M1234 410h8M1254 410h32M1398 410h28M1430 410h36M1526 410h20M1586 410h20M1666 410h16M1706 410h36M1802 410h16"/><path stroke="#2b2b2b" stroke-width="4.6" d="M1222 126h8M1478 126h44M1602 126h8M1618 126h8M1674 126h24M1782 126h12M1222 130h12M1482 130h20M1602 130h20M1678 130h20M1782 130h12M1222 134h12M1490 134h4M1606 134h16M1678 134h20M1782 134h12M1222 138h12M1682 138h12M1782 138h12M1222 142h12M1686 142h8M1782 142h12M1222 146h8M1786 146h4M1750 154h16M1494 158h4M1746 158h24M1494 162h12M1746 162h24M1494 166h16M1750 166h20M1490 170h24M1754 170h20M1490 174h24M1758 174h16M1238 178h8M1486 178h32M1758 178h16M1270 182h16M1486 182h36M1674 182h20M1758 182h16M1306 186h4M1486 186h36M1654 186h44M1754 186h32M1334 190h8M1482 190h36M1642 190h8M1702 190h8M1742 190h8M1794 190h24M1354 194h4M1486 194h32M1614 194h20M1378 198h8M1486 198h32M1558 198h28M1410 202h4M1490 202h32M1534 202h16M1430 206h8M1490 206h28M1454 210h4M1470 214h4M1618 218h12M1646 218h12M1690 218h72M1782 218h36M1594 222h8M1658 222h28M1570 226h12M1554 230h4M1550 234h8M1558 238h4M1562 242h8M1570 246h4M1574 250h4M1578 254h4M1578 258h4M1586 270h4M1598 274h4M1614 278h8M1630 282h4M1650 286h4M1726 290h16M1802 290h16M1434 294h16M1414 298h16M1454 298h72M1230 302h48M1326 302h100M1462 302h24M1526 302h36M1222 306h8M1274 306h20M1302 306h24M1374 306h48M1466 306h12M1562 306h12M1286 310h28M1394 310h28M1566 310h24M1402 314h20M1562 314h44M1406 318h16M1562 318h28M1618 318h4M1410 322h8M1562 322h24M1634 322h4M1562 326h16M1642 326h8M1654 330h8M1670 334h36M1718 334h20M1790 334h28M1698 338h28M1702 342h20M1706 346h20M1710 350h16M1342 354h24M1714 354h12M1222 358h4M1338 358h28M1718 358h8M1222 362h8M1338 362h24M1222 366h8M1338 366h20M1222 370h8M1342 370h12M1566 370h8M1222 374h8M1222 398h4M1222 402h8M1222 406h8M1222 410h12"/><path stroke="#313131" stroke-width="4.6" d="M1610 126h8M1258 182h12M1298 186h8M1330 190h4M1650 190h52M1750 190h44M1350 194h4M1634 194h12M1706 194h40M1374 198h4M1586 198h36M1406 202h4M1550 202h12M1426 206h4M1518 206h16M1450 210h4M1490 210h12M1466 214h4M1626 214h28M1702 214h40M1754 214h32M1482 218h8M1606 218h12M1658 218h32M1582 222h12M1558 226h12M1546 230h8M1546 234h4M1550 238h8M1558 242h4M1562 246h8M1570 250h4M1574 254h4M1574 258h4M1578 262h4M1578 266h4M1582 270h4M1594 274h4M1610 278h4M1646 286h4M1662 290h64M1402 294h32M1450 294h60M1234 298h48M1326 298h88M1526 298h16M1222 302h8M1278 302h48M1562 302h4M1294 306h8M1574 306h4M1590 310h4M1606 314h4M1622 318h4M1638 322h4M1650 326h4M1662 330h12M1766 330h8M1706 334h12"/><path stroke="#363636" stroke-width="4.6" d="M1250 182h8M1294 186h4M1326 190h4M1646 194h12M1694 194h12M1746 194h72M1370 198h4M1622 198h20M1710 198h32M1402 202h4M1562 202h20M1422 206h4M1534 206h12M1446 210h4M1502 210h16M1630 210h16M1710 210h24M1762 210h20M1462 214h4M1490 214h8M1614 214h12M1654 214h12M1682 214h20M1742 214h12M1786 214h32M1478 218h4M1594 218h12M1574 222h8M1554 226h4M1542 230h4M1542 234h4M1546 238h4M1554 242h4M1558 246h4M1562 250h8M1566 254h8M1570 258h4M1574 262h4M1574 266h4M1606 278h4M1626 282h4M1642 286h4M1658 290h4M1246 294h32M1334 294h68M1510 294h12M1222 298h12M1282 298h44M1542 298h12M1566 302h4M1578 306h8M1594 310h4M1610 314h4M1626 318h4M1642 322h4M1654 326h4M1674 330h28M1750 330h16M1774 330h16"/><path stroke="#3c3c3c" stroke-width="4.6" d="M1222 182h28M1286 186h8M1322 190h4M1346 194h4M1658 194h36M1366 198h4M1642 198h16M1698 198h12M1742 198h56M1394 202h8M1582 202h68M1702 202h48M1766 202h16M1546 206h8M1614 206h40M1702 206h48M1758 206h28M1442 210h4M1518 210h8M1614 210h16M1646 210h16M1690 210h20M1734 210h28M1782 210h16M1806 210h12M1458 214h4M1498 214h4M1598 214h16M1666 214h16M1474 218h4M1582 218h12M1562 222h12M1546 226h8M1534 230h8M1534 234h8M1542 238h4M1550 242h4M1554 246h4M1558 250h4M1562 254h4M1566 258h4M1570 262h4M1570 266h4M1578 270h4M1590 274h4M1622 282h4M1638 286h4M1346 290h64M1654 290h4M1222 294h24M1278 294h56M1522 294h4M1742 294h68M1554 298h8M1570 302h4M1586 306h4M1598 310h4M1614 314h4M1630 318h4M1658 326h4M1702 330h48M1790 330h28"/><path stroke="#414141" stroke-width="4.6" d="M1282 186h4M1314 190h8M1342 194h4M1362 198h4M1658 198h40M1798 198h20M1390 202h4M1650 202h20M1682 202h20M1750 202h16M1782 202h36M1418 206h4M1554 206h60M1654 206h20M1678 206h24M1750 206h8M1786 206h32M1438 210h4M1526 210h12M1586 210h28M1662 210h28M1798 210h8M1454 214h4M1502 214h8M1582 214h16M1470 218h4M1490 218h8M1570 218h12M1486 222h4M1554 222h8M1542 226h4M1530 230h4M1530 234h4M1538 238h4M1546 242h4M1550 246h4M1554 250h4M1558 254h4M1562 258h4M1566 262h4M1566 266h4M1602 278h4M1618 282h4M1634 286h4M1242 290h56M1322 290h24M1410 290h52M1650 290h4M1526 294h8M1730 294h12M1810 294h8M1574 302h4M1602 310h4M1618 314h4M1634 318h4M1646 322h4"/><path stroke="#474747" stroke-width="4.6" d="M1274 186h8M1310 190h4M1338 194h4M1358 198h4M1386 202h4M1670 202h12M1414 206h4M1674 206h4M1434 210h4M1538 210h48M1450 214h4M1510 214h12M1562 214h20M1466 218h4M1558 218h12M1482 222h4M1546 222h8M1534 226h8M1522 230h8M1526 234h4M1534 238h4M1542 242h4M1546 246h4M1550 250h4M1554 254h4M1558 258h4M1562 262h4M1562 266h4M1574 270h4M1586 274h4M1598 278h4M1614 282h4M1338 286h20M1630 286h4M1222 290h20M1298 290h24M1462 290h32M1534 294h4M1670 294h60M1562 298h4M1578 302h4M1590 306h4M1606 310h4M1622 314h4M1650 322h4M1662 326h8"/><path stroke="#4c4c4c" stroke-width="4.6" d="M1266 186h8M1302 190h8M1334 194h4M1354 198h4M1378 202h8M1410 206h4M1430 210h4M1522 214h40M1462 218h4M1498 218h8M1542 218h16M1478 222h4M1490 222h8M1538 222h8M1526 226h8M1518 230h4M1522 234h4M1530 238h4M1538 242h4M1542 246h4M1546 250h4M1550 254h4M1554 258h4M1558 262h4M1570 270h4M1582 274h4M1610 282h4M1242 286h96M1358 286h16M1494 290h20M1646 290h4M1538 294h8M1662 294h8M1566 298h4M1594 306h4M1610 310h4M1626 314h4M1638 318h4M1670 326h24"/><path stroke="#515151" stroke-width="4.6" d="M1258 186h8M1298 190h4M1330 194h4M1374 202h4M1406 206h4M1426 210h4M1442 214h8M1458 218h4M1506 218h36M1474 222h4M1498 222h4M1518 222h20M1514 226h12M1510 230h8M1518 234h4M1526 238h4M1534 242h4M1538 246h4M1542 250h4M1546 254h4M1550 258h4M1554 262h4M1554 266h8M1594 278h4M1338 282h20M1222 286h20M1374 286h12M1626 286h4M1514 290h8M1642 290h4M1546 294h8M1582 302h4M1598 306h4M1642 318h4M1654 322h4M1694 326h36M1758 326h36"/><path stroke="#575757" stroke-width="4.6" d="M1246 186h12M1294 190h4M1326 194h4M1350 198h4M1370 202h4M1402 206h4M1422 210h4M1438 214h4M1470 222h4M1502 222h16M1486 226h28M1506 230h4M1514 234h4M1522 238h4M1530 242h4M1534 246h4M1546 258h4M1550 262h4M1550 266h4M1566 270h4M1578 274h4M1254 282h84M1606 282h4M1386 286h16M1622 286h4M1522 290h4M1638 290h4M1554 294h8M1658 294h4M1570 298h4M1586 302h4M1614 310h4M1630 314h4M1658 322h4M1730 326h28M1794 326h24"/><path stroke="#5c5c5c" stroke-width="4.6" d="M1222 186h24M1286 190h8M1322 194h4M1346 198h4M1366 202h4M1398 206h4M1418 210h4M1434 214h4M1454 218h4M1466 222h4M1478 226h8M1498 230h8M1510 234h4M1518 238h4M1526 242h4M1530 246h4M1538 250h4M1542 254h4M1542 258h4M1542 262h8M1546 266h4M1346 278h8M1590 278h4M1222 282h32M1602 282h4M1402 286h8M1526 290h4M1654 294h4M1574 298h4M1742 298h76M1602 306h4M1618 310h4M1634 314h4M1646 318h4"/><path stroke="#626262" stroke-width="4.6" d="M1282 190h4M1318 194h4M1342 198h4M1362 202h4M1390 206h8M1414 210h4M1450 218h4M1462 222h4M1474 226h4M1490 230h8M1502 234h8M1514 238h4M1522 242h4M1526 246h4M1534 250h4M1538 254h4M1538 258h4M1538 262h4M1538 266h8M1562 270h4M1574 274h4M1278 278h68M1354 278h4M1586 278h4M1410 286h8M1618 286h4M1530 290h8M1634 290h4M1562 294h4M1650 294h4M1722 298h20M1590 302h4M1606 306h4M1622 310h4M1650 318h4M1662 322h8"/><path stroke="#676767" stroke-width="4.6" d="M1278 190h4M1310 194h8M1338 198h4M1358 202h4M1386 206h4M1410 210h4M1430 214h4M1446 218h4M1458 222h4M1470 226h4M1486 230h4M1498 234h4M1510 238h4M1518 242h4M1522 246h4M1530 250h4M1534 254h4M1534 258h4M1534 262h4M1534 266h4M1558 270h4M1222 278h56M1358 282h8M1598 282h4M1418 286h72M1614 286h4M1538 290h4M1630 290h4M1646 294h4M1578 298h4M1666 298h56M1594 302h4M1638 314h4M1670 322h20"/><path stroke="#6d6d6d" stroke-width="4.6" d="M1270 190h8M1306 194h4M1334 198h4M1382 206h4M1406 210h4M1426 214h4M1442 218h4M1454 222h4M1466 226h4M1478 230h8M1494 234h4M1502 238h8M1510 242h8M1518 246h4M1526 250h4M1530 254h4M1530 258h4M1526 262h8M1522 266h12M1550 270h8M1290 274h16M1330 274h28M1570 274h4M1582 278h4M1366 282h8M1594 282h4M1490 286h28M1610 286h4M1542 290h8M1626 290h4M1566 294h4M1582 298h4M1662 298h4M1610 306h4M1626 310h4M1642 314h4M1654 318h4M1690 322h16"/><path stroke="#727272" stroke-width="4.6" d="M1262 190h8M1298 194h8M1330 198h4M1354 202h4M1374 206h8M1402 210h4M1422 214h4M1438 218h4M1450 222h4M1462 226h4M1474 230h4M1486 234h8M1498 238h4M1506 242h4M1514 246h4M1518 250h8M1522 254h8M1522 258h8M1518 262h8M1518 266h4M1546 270h4M1266 274h24M1306 274h24M1566 274h4M1374 282h8M1518 286h4M1606 286h4M1550 290h8M1570 294h4M1642 294h4M1586 298h4M1658 298h4M1598 302h4M1614 306h4M1630 310h4M1658 318h4M1706 322h36M1754 322h64"/><path stroke="#777777" stroke-width="4.6" d="M1250 190h12M1290 194h8M1326 198h4M1350 202h4M1370 206h4M1398 210h4M1418 214h4M1434 218h4M1446 222h4M1458 226h4M1470 230h4M1482 234h4M1494 238h4M1502 242h4M1510 246h4M1514 250h4M1518 254h4M1514 258h8M1506 262h12M1510 266h8M1350 270h8M1538 270h8M1222 274h44M1358 278h4M1578 278h4M1382 282h8M1590 282h4M1522 286h8M1602 286h4M1558 290h4M1622 290h4M1574 294h4M1638 294h4M1654 298h4M1602 302h4M1782 302h36M1618 306h4M1634 310h4M1646 314h4M1662 318h4M1742 322h12"/><path stroke="#7d7d7d" stroke-width="4.6" d="M1222 190h28M1286 194h4M1322 198h4M1346 202h4M1366 206h4M1394 210h4M1414 214h4M1430 218h4M1442 222h4M1454 226h4M1466 230h4M1474 234h8M1486 238h8M1498 242h4M1502 246h8M1510 250h4M1510 254h8M1506 258h8M1478 262h28M1450 266h60M1282 270h32M1326 270h24M1358 270h4M1530 270h8M1358 274h4M1562 274h4M1362 278h8M1574 278h4M1390 282h8M1586 282h4M1530 286h8M1598 286h4M1562 290h4M1614 290h8M1578 294h4M1634 294h4M1590 298h8M1650 298h4M1606 302h4M1738 302h44M1622 306h4M1638 310h4M1650 314h4M1666 318h16"/><path stroke="#828282" stroke-width="4.6" d="M1282 194h4M1318 198h4M1342 202h4M1362 206h4M1386 210h8M1410 214h4M1426 218h4M1438 222h4M1450 226h4M1462 230h4M1470 234h4M1482 238h4M1490 242h8M1498 246h4M1502 250h8M1502 254h8M1494 258h12M1438 262h40M1438 266h12M1222 270h4M1254 270h28M1314 270h12M1362 270h8M1522 270h8M1362 274h4M1554 274h8M1370 278h4M1570 278h4M1398 282h8M1506 282h4M1582 282h4M1538 286h8M1594 286h4M1566 290h4M1606 290h8M1582 294h4M1626 294h8M1598 298h4M1646 298h4M1610 302h8M1662 302h76M1626 306h4M1642 310h4M1654 314h4M1682 318h20"/><path stroke="#888888" stroke-width="4.6" d="M1274 194h8M1310 198h8M1338 202h4M1358 206h4M1382 210h4M1406 214h4M1422 218h4M1434 222h4M1446 226h4M1458 230h4M1466 234h4M1474 238h8M1482 242h8M1490 246h8M1494 250h8M1490 254h12M1462 258h32M1430 262h8M1346 266h52M1426 266h12M1226 270h28M1370 270h4M1514 270h8M1366 274h8M1542 274h12M1374 278h8M1566 278h4M1406 282h8M1454 282h52M1510 282h16M1578 282h4M1546 286h16M1586 286h8M1570 290h8M1594 290h12M1586 294h40M1602 298h12M1634 298h12M1618 302h8M1654 302h8M1630 306h8M1646 310h4M1658 314h8M1702 318h32M1762 318h56"/><path stroke="#8d8d8d" stroke-width="4.6" d="M1266 194h8M1298 198h12M1334 202h4M1354 206h4M1374 210h8M1398 214h8M1418 218h4M1430 222h4M1442 226h4M1454 230h4M1462 234h4M1470 238h4M1478 242h4M1482 246h8M1482 250h12M1474 254h16M1442 258h20M1410 262h20M1278 266h36M1326 266h20M1398 266h28M1374 270h8M1486 270h28M1374 274h4M1522 274h20M1382 278h4M1546 278h20M1414 282h8M1430 282h24M1526 282h52M1562 286h24M1578 290h16M1614 298h20M1626 302h28M1638 306h52M1770 306h48M1650 310h20M1666 314h24M1734 318h28"/><path stroke="#929292" stroke-width="4.6" d="M1254 194h12M1290 198h8M1330 202h4M1350 206h4M1370 210h4M1394 214h4M1414 218h4M1426 222h4M1438 226h4M1446 230h8M1458 234h4M1466 238h4M1470 242h8M1474 246h8M1470 250h12M1454 254h20M1434 258h8M1378 262h32M1222 266h56M1314 266h12M1382 270h4M1458 270h28M1378 274h8M1498 274h24M1386 278h8M1486 278h60M1422 282h8M1690 306h80M1670 310h32M1774 310h44M1690 314h36M1762 314h56"/><path stroke="#989898" stroke-width="4.6" d="M1222 194h32M1282 198h8M1322 202h8M1346 206h4M1366 210h4M1386 214h8M1406 218h8M1422 222h4M1434 226h4M1442 230h4M1450 234h8M1458 238h8M1466 242h4M1466 246h8M1458 250h12M1442 254h12M1422 258h12M1290 262h8M1346 262h32M1386 270h8M1450 270h8M1386 274h4M1466 274h32M1394 278h8M1462 278h24M1702 310h72M1726 314h36"/><path stroke="#9d9d9d" stroke-width="4.6" d="M1278 198h4M1318 202h4M1342 206h4M1362 210h4M1382 214h4M1402 218h4M1418 222h4M1430 226h4M1438 230h4M1446 234h4M1454 238h4M1458 242h8M1458 246h8M1446 250h12M1434 254h8M1398 258h24M1278 262h12M1298 262h16M1326 262h20M1394 270h4M1438 270h12M1390 274h8M1454 274h12M1402 278h8M1446 278h16"/><path stroke="#a3a3a3" stroke-width="4.6" d="M1270 198h8M1298 202h20M1338 206h4M1354 210h8M1374 214h8M1394 218h8M1414 222h4M1426 226h4M1434 230h4M1442 234h4M1446 238h8M1450 242h8M1446 246h12M1438 250h8M1426 254h8M1374 258h24M1222 262h56M1314 262h12M1398 270h20M1430 270h8M1398 274h8M1442 274h12M1410 278h8M1434 278h12"/><path stroke="#a8a8a8" stroke-width="4.6" d="M1258 198h12M1286 202h12M1330 206h8M1350 210h4M1370 214h4M1390 218h4M1406 222h8M1422 226h4M1430 230h4M1438 234h4M1442 238h4M1442 242h8M1438 246h8M1430 250h8M1410 254h16M1286 258h12M1346 258h28M1418 270h12M1406 274h12M1430 274h12M1418 278h16"/><path stroke="#aeaeae" stroke-width="4.6" d="M1222 198h36M1282 202h4M1326 206h4M1346 210h4M1362 214h8M1382 218h8M1402 222h4M1418 226h4M1426 230h4M1434 234h4M1438 238h4M1438 242h4M1434 246h4M1422 250h8M1386 254h24M1274 258h12M1298 258h16M1326 258h20M1418 274h12"/><path stroke="#b3b3b3" stroke-width="4.6" d="M1274 202h8M1314 206h12M1342 210h4M1358 214h4M1374 218h8M1394 222h8M1410 226h8M1422 230h4M1426 234h8M1430 238h8M1430 242h8M1426 246h8M1410 250h12M1366 254h20M1222 258h52M1314 258h12"/><path stroke="#b8b8b8" stroke-width="4.6" d="M1270 202h4M1290 206h24M1334 210h8M1354 214h4M1370 218h4M1386 222h8M1402 226h8M1414 230h8M1422 234h4M1426 238h4M1426 242h4M1418 246h8M1390 250h20M1282 254h24M1342 254h24"/><path stroke="#bebebe" stroke-width="4.6" d="M1226 202h44M1282 206h8M1326 210h8M1346 214h8M1362 218h8M1378 222h8M1394 226h8M1410 230h4M1418 234h4M1422 238h4M1418 242h8M1402 246h16M1374 250h16M1222 254h12M1270 254h12M1306 254h12M1322 254h20"/><path stroke="#c3c3c3" stroke-width="4.6" d="M1222 202h4M1274 206h8M1322 210h4M1342 214h4M1358 218h4M1374 222h4M1386 226h8M1398 230h12M1410 234h8M1410 238h12M1402 242h16M1386 246h16M1286 250h12M1354 250h20M1234 254h36M1318 254h4"/><path stroke="#c9c9c9" stroke-width="4.6" d="M1266 206h8M1286 210h36M1334 214h8M1354 218h4M1366 222h8M1382 226h4M1390 230h8M1398 234h12M1398 238h12M1390 242h12M1374 246h12M1274 250h12M1298 250h12M1334 250h20"/><path stroke="#cecece" stroke-width="4.6" d="M1222 206h44M1278 210h8M1326 214h8M1346 218h8M1362 222h4M1374 226h8M1382 230h8M1390 234h8M1386 238h12M1378 242h12M1290 246h4M1358 246h16M1222 250h52M1310 250h24"/><path stroke="#d4d4d4" stroke-width="4.6" d="M1270 210h8M1286 214h40M1338 218h8M1354 222h8M1366 226h8M1374 230h8M1378 234h12M1378 238h8M1366 242h12M1278 246h12M1294 246h12M1338 246h20"/><path stroke="#d9d9d9" stroke-width="4.6" d="M1222 210h16M1254 210h16M1278 214h8M1290 218h4M1330 218h8M1346 222h8M1358 226h8M1366 230h8M1370 234h8M1366 238h12M1286 242h12M1354 242h12M1222 246h32M1266 246h12M1306 246h12M1322 246h16"/><path stroke="#dedede" stroke-width="4.6" d="M1238 210h16M1270 214h8M1282 218h8M1294 218h20M1322 218h8M1338 222h8M1350 226h8M1358 230h8M1362 234h8M1290 238h4M1354 238h12M1278 242h8M1298 242h12M1334 242h20M1254 246h12M1318 246h4"/><path stroke="#e4e4e4" stroke-width="4.6" d="M1222 214h24M1258 214h12M1278 218h4M1314 218h8M1286 222h20M1330 222h8M1290 226h4M1342 226h8M1350 230h8M1290 234h4M1350 234h12M1282 238h8M1294 238h12M1342 238h12M1222 242h36M1266 242h12M1310 242h24"/><path stroke="#e9e9e9" stroke-width="4.6" d="M1246 214h12M1270 218h8M1278 222h8M1306 222h24M1282 226h8M1294 226h12M1334 226h8M1282 230h20M1338 230h12M1278 234h12M1294 234h12M1338 234h12M1270 238h12M1306 238h8M1326 238h16M1258 242h8"/><path stroke="#efefef" stroke-width="4.6" d="M1222 218h48M1270 222h8M1274 226h8M1306 226h12M1322 226h12M1274 230h8M1302 230h12M1326 230h12M1270 234h8M1306 234h12M1322 234h16M1222 238h48M1314 238h12"/><path stroke="#f4f4f4" stroke-width="4.6" d="M1222 222h48M1222 226h28M1266 226h8M1318 226h4M1222 230h32M1266 230h8M1314 230h12M1222 234h48M1318 234h4"/><path stroke="#fafafa" stroke-width="4.6" d="M1250 226h16M1254 230h12"/></g>
</g></g>
<rect x="1723.4" y="136" width="81.2" height="265.5" fill="none" stroke="#ea3a3c" stroke-width="6" stroke-dasharray="13 7.5"/>
<text x="1393" y="184" font-size="53" fill="#fff"><tspan font-style="italic">B</tspan><tspan font-size="27" dy="10">1</tspan><tspan dy="-10" dx="14" font-size="52">= 56 mT</tspan></text>
<rect x="952" y="520.2" width="926.5" height="346" fill="#575757"/>
<rect x="952" y="520.2" width="926.5" height="346" filter="url(#grain)"/>
<polyline points="952,653.2 1525,653.2 1585,638.2 1650,627.2 1665,626.7 1878.5,626.7" fill="none" stroke="#8e8e8e" stroke-width="2.6" stroke-linejoin="round"/>
<polyline points="952,673.6 1535,673.6 1595,658.2 1650,647.7 1665,646.7 1878.5,646.7" fill="none" stroke="#8e8e8e" stroke-width="2.6" stroke-linejoin="round"/>
<polyline points="1353,717.2 1353,696.2 1535,696.2 1600,717.2 1655,731.2 1670,732.2 1878.5,732.2" fill="none" stroke="#8e8e8e" stroke-width="2.6" stroke-linejoin="round"/>
<polyline points="1353,717.2 1525,717.2 1595,739.2 1650,752.2 1665,753.2 1878.5,753.2" fill="none" stroke="#8e8e8e" stroke-width="2.6" stroke-linejoin="round"/>
<line x1="952" y1="653.2" x2="1232" y2="653.2" stroke="#a9a9a9" stroke-width="2.8"/>
<line x1="952" y1="673.6" x2="1232" y2="673.6" stroke="#a9a9a9" stroke-width="2.8"/>
<line x1="1807" y1="626.7" x2="1878.5" y2="626.7" stroke="#a9a9a9" stroke-width="2.8"/>
<line x1="1807" y1="646.7" x2="1878.5" y2="646.7" stroke="#a9a9a9" stroke-width="2.8"/>
<line x1="1807" y1="732.2" x2="1878.5" y2="732.2" stroke="#a9a9a9" stroke-width="2.8"/>
<line x1="1807" y1="753.2" x2="1878.5" y2="753.2" stroke="#a9a9a9" stroke-width="2.8"/>
<rect x="1080" y="520.2" width="40.5" height="346" fill="#f6d592"/>
<rect x="1084.5" y="520.2" width="31.5" height="346" fill="#bc9047"/>
<rect x="1084.5" y="654.2" width="31.5" height="18.4" fill="#d2a862"/>
<line x1="1080" y1="653.2" x2="1120.5" y2="653.2" stroke="#f2d49a" stroke-width="3.2"/>
<line x1="1080" y1="673.6" x2="1120.5" y2="673.6" stroke="#f2d49a" stroke-width="3.2"/>
<rect x="1174" y="520.2" width="40.5" height="346" fill="#f6d592"/>
<rect x="1178.5" y="520.2" width="31.5" height="346" fill="#bc9047"/>
<rect x="1178.5" y="654.2" width="31.5" height="18.4" fill="#d2a862"/>
<line x1="1174" y1="653.2" x2="1214.5" y2="653.2" stroke="#f2d49a" stroke-width="3.2"/>
<line x1="1174" y1="673.6" x2="1214.5" y2="673.6" stroke="#f2d49a" stroke-width="3.2"/>
<circle cx="1022" cy="739.2" r="2.8" fill="#d0d0d0"/>
<circle cx="1023" cy="650.2" r="2.2" fill="#c8c8c8"/>
<circle cx="1149" cy="659.2" r="2.2" fill="#bdbdbd"/>
<circle cx="1153" cy="664.2" r="2" fill="#bdbdbd"/>
<circle cx="1150" cy="669.2" r="1.8" fill="#bdbdbd"/>
<circle cx="1155" cy="673.2" r="2" fill="#bdbdbd"/>
<circle cx="1157" cy="678.2" r="1.6" fill="#bdbdbd"/>
<circle cx="1746" cy="858.2" r="3.4" fill="#b8b8b8"/>
<circle cx="1811" cy="765.2" r="3" fill="#b8b8b8"/>
<rect x="951" y="519.2" width="75.5" height="79.4" fill="#fff"/>
<clipPath id="hc1"><rect x="1231.3" y="585" width="574.7" height="230"/></clipPath>
<g clip-path="url(#hc1)" opacity="0.7"><g filter="url(#jet)">
<rect x="1201.3" y="555" width="634.7" height="290" fill="#1a1a1a"/>
<g fill="none"><path stroke="#1b1b1b" stroke-width="4.6" d="M1585.3 665h16M1585.3 669h20M1589.3 673h16M1597.3 677h8M1601.3 693h12M1601.3 697h12M1237.3 817h8M1233.3 821h12M1229.3 825h16"/><path stroke="#212121" stroke-width="4.6" d="M1257.3 577h16M1497.3 577h16M1585.3 577h20M1665.3 577h16M1721.3 577h20M1793.3 577h24M1257.3 581h16M1501.3 581h12M1589.3 581h16M1669.3 581h8M1721.3 581h16M1793.3 581h24M1257.3 585h16M1505.3 585h4M1593.3 585h12M1793.3 585h24M1253.3 589h20M1597.3 589h8M1793.3 589h24M1257.3 593h12M1601.3 593h4M1797.3 593h20M1601.3 597h4M1801.3 597h16M1601.3 601h8M1805.3 601h12M1385.3 605h4M1597.3 605h16M1809.3 605h8M1597.3 609h20M1593.3 613h24M1505.3 617h8M1593.3 617h20M1501.3 621h16M1589.3 621h24M1497.3 625h16M1501.3 629h8M1585.3 661h24M1573.3 665h12M1601.3 665h16M1573.3 669h12M1605.3 669h12M1521.3 673h8M1573.3 673h16M1605.3 673h12M1521.3 677h12M1573.3 677h24M1605.3 677h12M1785.3 677h16M1521.3 681h16M1569.3 681h52M1781.3 681h28M1521.3 685h24M1565.3 685h56M1781.3 685h36M1521.3 689h28M1557.3 689h68M1781.3 689h36M1561.3 693h40M1613.3 693h16M1781.3 693h36M1573.3 697h28M1613.3 697h16M1657.3 697h12M1785.3 697h32M1589.3 701h40M1657.3 701h16M1785.3 701h32M1601.3 705h24M1653.3 705h24M1789.3 705h28M1657.3 709h24M1797.3 709h20M1661.3 713h20M1801.3 713h16M1493.3 729h16M1493.3 733h16M1489.3 737h20M1489.3 741h16M1485.3 745h20M1485.3 749h20M1421.3 753h12M1481.3 753h24M1417.3 757h16M1481.3 757h24M1417.3 761h20M1481.3 761h20M1417.3 765h20M1485.3 765h12M1549.3 765h24M1229.3 769h28M1417.3 769h20M1545.3 769h40M1221.3 773h40M1417.3 773h20M1545.3 773h40M1221.3 777h40M1421.3 777h12M1545.3 777h40M1221.3 781h40M1349.3 781h24M1429.3 781h4M1545.3 781h40M1221.3 785h36M1337.3 785h40M1545.3 785h40M1233.3 789h16M1325.3 789h60M1545.3 789h40M1241.3 793h4M1321.3 793h72M1545.3 793h40M1241.3 797h4M1317.3 797h80M1545.3 797h44M1237.3 801h12M1317.3 801h80M1549.3 801h40M1233.3 805h16M1313.3 805h84M1553.3 805h36M1221.3 809h32M1313.3 809h84M1565.3 809h28M1221.3 813h32M1313.3 813h20M1345.3 813h20M1505.3 813h16M1569.3 813h24M1777.3 813h16M1221.3 817h16M1245.3 817h8M1313.3 817h12M1501.3 817h20M1573.3 817h24M1765.3 817h36M1221.3 821h12M1245.3 821h8M1501.3 821h20M1577.3 821h24M1725.3 821h80M1221.3 825h8M1245.3 825h8M1501.3 825h20M1577.3 825h28M1725.3 825h84"/><path stroke="#262626" stroke-width="4.6" d="M1249.3 577h8M1273.3 577h88M1377.3 577h24M1461.3 577h36M1513.3 577h20M1573.3 577h12M1605.3 577h12M1653.3 577h12M1681.3 577h8M1709.3 577h12M1741.3 577h12M1785.3 577h8M1249.3 581h8M1273.3 581h88M1377.3 581h24M1461.3 581h40M1513.3 581h20M1577.3 581h12M1605.3 581h12M1649.3 581h20M1677.3 581h12M1709.3 581h12M1737.3 581h16M1781.3 581h12M1249.3 585h8M1273.3 585h12M1293.3 585h68M1373.3 585h28M1461.3 585h44M1509.3 585h24M1577.3 585h16M1605.3 585h12M1649.3 585h40M1709.3 585h40M1781.3 585h12M1245.3 589h8M1273.3 589h12M1301.3 589h60M1369.3 589h36M1465.3 589h8M1489.3 589h44M1581.3 589h16M1605.3 589h16M1645.3 589h44M1717.3 589h28M1781.3 589h12M1245.3 593h12M1269.3 593h16M1321.3 593h84M1493.3 593h44M1585.3 593h16M1605.3 593h20M1637.3 593h52M1729.3 593h4M1785.3 593h12M1249.3 597h28M1325.3 597h80M1493.3 597h44M1585.3 597h16M1605.3 597h56M1789.3 597h12M1329.3 601h76M1493.3 601h48M1585.3 601h16M1609.3 601h44M1793.3 601h12M1333.3 605h52M1389.3 605h20M1489.3 605h56M1585.3 605h12M1613.3 605h36M1797.3 605h12M1357.3 609h56M1465.3 609h80M1585.3 609h12M1617.3 609h32M1797.3 609h20M1369.3 613h68M1461.3 613h88M1581.3 613h12M1617.3 613h36M1725.3 613h12M1801.3 613h16M1385.3 617h60M1457.3 617h48M1513.3 617h40M1569.3 617h24M1613.3 617h44M1725.3 617h12M1809.3 617h8M1421.3 621h80M1517.3 621h72M1613.3 621h32M1453.3 625h44M1513.3 625h100M1469.3 629h32M1509.3 629h68M1485.3 633h32M1577.3 661h8M1609.3 661h32M1693.3 661h16M1769.3 661h12M1565.3 665h8M1617.3 665h24M1693.3 665h20M1765.3 665h40M1521.3 669h16M1561.3 669h12M1617.3 669h24M1693.3 669h24M1769.3 669h48M1529.3 673h12M1557.3 673h16M1617.3 673h20M1693.3 673h24M1769.3 673h48M1533.3 677h40M1617.3 677h20M1693.3 677h28M1769.3 677h16M1801.3 677h16M1537.3 681h32M1621.3 681h16M1689.3 681h32M1773.3 681h8M1809.3 681h8M1517.3 685h4M1545.3 685h20M1621.3 685h20M1653.3 685h16M1689.3 685h36M1773.3 685h8M1517.3 689h4M1549.3 689h8M1625.3 689h52M1689.3 689h44M1773.3 689h8M1529.3 693h32M1629.3 693h112M1773.3 693h8M1561.3 697h12M1629.3 697h28M1669.3 697h72M1773.3 697h12M1577.3 701h12M1629.3 701h28M1673.3 701h68M1773.3 701h12M1593.3 705h8M1625.3 705h28M1677.3 705h64M1773.3 705h16M1605.3 709h52M1681.3 709h60M1777.3 709h20M1649.3 713h12M1681.3 713h56M1781.3 713h20M1669.3 717h16M1717.3 717h8M1793.3 717h24M1493.3 725h16M1489.3 729h4M1509.3 729h8M1485.3 733h8M1509.3 733h12M1485.3 737h4M1509.3 737h12M1545.3 737h8M1481.3 741h8M1505.3 741h12M1549.3 741h24M1477.3 745h8M1505.3 745h12M1549.3 745h32M1417.3 749h20M1477.3 749h8M1505.3 749h12M1549.3 749h56M1409.3 753h12M1433.3 753h8M1473.3 753h8M1505.3 753h8M1545.3 753h80M1401.3 757h16M1433.3 757h8M1473.3 757h8M1505.3 757h8M1541.3 757h92M1397.3 761h20M1437.3 761h8M1473.3 761h8M1501.3 761h12M1537.3 761h100M1693.3 761h20M1737.3 761h24M1221.3 765h40M1321.3 765h12M1393.3 765h24M1437.3 765h8M1473.3 765h12M1497.3 765h16M1533.3 765h16M1573.3 765h68M1693.3 765h20M1737.3 765h24M1805.3 765h12M1221.3 769h8M1257.3 769h20M1317.3 769h56M1393.3 769h24M1437.3 769h8M1473.3 769h40M1533.3 769h12M1585.3 769h52M1693.3 769h20M1741.3 769h12M1801.3 769h16M1261.3 773h24M1317.3 773h100M1437.3 773h12M1481.3 773h32M1533.3 773h12M1585.3 773h20M1609.3 773h24M1697.3 773h12M1801.3 773h16M1261.3 777h28M1317.3 777h104M1433.3 777h16M1533.3 777h12M1585.3 777h16M1617.3 777h8M1801.3 777h16M1261.3 781h28M1317.3 781h32M1373.3 781h56M1433.3 781h20M1533.3 781h12M1585.3 781h12M1801.3 781h16M1257.3 785h28M1317.3 785h20M1377.3 785h76M1537.3 785h8M1585.3 785h12M1801.3 785h16M1221.3 789h12M1249.3 789h32M1313.3 789h12M1385.3 789h72M1537.3 789h8M1585.3 789h12M1685.3 789h16M1801.3 789h16M1221.3 793h20M1245.3 793h24M1309.3 793h12M1393.3 793h64M1505.3 793h20M1533.3 793h12M1585.3 793h12M1629.3 793h76M1801.3 793h16M1221.3 797h20M1245.3 797h16M1309.3 797h8M1397.3 797h60M1501.3 797h44M1589.3 797h8M1629.3 797h76M1777.3 797h12M1801.3 797h16M1221.3 801h16M1249.3 801h12M1305.3 801h12M1397.3 801h60M1497.3 801h52M1589.3 801h12M1629.3 801h76M1773.3 801h44M1221.3 805h12M1249.3 805h12M1301.3 805h12M1397.3 805h60M1497.3 805h56M1589.3 805h12M1629.3 805h36M1677.3 805h28M1769.3 805h48M1253.3 809h8M1301.3 809h12M1397.3 809h12M1417.3 809h28M1493.3 809h72M1593.3 809h12M1633.3 809h32M1681.3 809h24M1717.3 809h36M1761.3 809h56M1253.3 813h8M1297.3 813h16M1333.3 813h12M1365.3 813h40M1493.3 813h12M1521.3 813h48M1593.3 813h16M1633.3 813h28M1689.3 813h88M1793.3 813h24M1253.3 817h8M1297.3 817h16M1325.3 817h76M1493.3 817h8M1521.3 817h24M1549.3 817h24M1597.3 817h16M1633.3 817h20M1693.3 817h72M1801.3 817h16M1253.3 821h8M1293.3 821h80M1493.3 821h8M1521.3 821h16M1561.3 821h16M1601.3 821h20M1633.3 821h16M1697.3 821h28M1805.3 821h12M1253.3 825h8M1293.3 825h76M1493.3 825h8M1521.3 825h12M1561.3 825h16M1605.3 825h20M1633.3 825h12M1701.3 825h24M1809.3 825h8"/><path stroke="#2b2b2b" stroke-width="4.6" d="M1241.3 577h8M1361.3 577h16M1401.3 577h60M1533.3 577h12M1565.3 577h8M1617.3 577h36M1689.3 577h20M1753.3 577h12M1773.3 577h12M1241.3 581h8M1361.3 581h16M1401.3 581h60M1533.3 581h12M1569.3 581h8M1617.3 581h32M1689.3 581h20M1753.3 581h12M1773.3 581h8M1221.3 585h4M1237.3 585h12M1285.3 585h8M1361.3 585h12M1401.3 585h60M1533.3 585h16M1569.3 585h8M1617.3 585h32M1689.3 585h20M1749.3 585h32M1221.3 589h24M1285.3 589h16M1361.3 589h8M1405.3 589h60M1473.3 589h16M1533.3 589h16M1573.3 589h8M1621.3 589h24M1689.3 589h28M1745.3 589h36M1221.3 593h24M1285.3 593h36M1405.3 593h88M1537.3 593h12M1573.3 593h12M1625.3 593h12M1689.3 593h40M1733.3 593h52M1233.3 597h16M1277.3 597h48M1405.3 597h88M1537.3 597h16M1577.3 597h8M1661.3 597h128M1249.3 601h36M1317.3 601h12M1405.3 601h88M1541.3 601h12M1577.3 601h8M1653.3 601h140M1321.3 605h12M1409.3 605h80M1545.3 605h12M1573.3 605h12M1649.3 605h148M1329.3 609h28M1413.3 609h52M1545.3 609h40M1649.3 609h148M1345.3 613h24M1437.3 613h24M1549.3 613h32M1653.3 613h72M1737.3 613h64M1365.3 617h20M1445.3 617h12M1553.3 617h16M1657.3 617h68M1737.3 617h72M1389.3 621h32M1645.3 621h52M1717.3 621h32M1761.3 621h12M1417.3 625h36M1613.3 625h16M1429.3 629h40M1577.3 629h24M1453.3 633h32M1517.3 633h24M1481.3 637h24M1593.3 657h52M1689.3 657h32M1757.3 657h36M1569.3 661h8M1641.3 661h16M1681.3 661h12M1709.3 661h24M1749.3 661h20M1781.3 661h36M1521.3 665h12M1553.3 665h12M1641.3 665h16M1681.3 665h12M1713.3 665h24M1749.3 665h16M1805.3 665h12M1537.3 669h24M1641.3 669h20M1677.3 669h16M1717.3 669h24M1749.3 669h20M1541.3 673h16M1637.3 673h56M1717.3 673h52M1517.3 677h4M1637.3 677h56M1721.3 677h48M1513.3 681h8M1637.3 681h52M1721.3 681h52M1509.3 685h8M1641.3 685h12M1669.3 685h20M1725.3 685h48M1509.3 689h8M1677.3 689h12M1733.3 689h40M1521.3 693h8M1741.3 693h32M1557.3 697h4M1741.3 697h32M1569.3 701h8M1741.3 701h32M1585.3 705h8M1741.3 705h32M1601.3 709h4M1741.3 709h36M1637.3 713h12M1737.3 713h44M1657.3 717h12M1685.3 717h32M1725.3 717h68M1809.3 721h8M1489.3 725h4M1509.3 725h4M1485.3 729h4M1517.3 729h12M1481.3 733h4M1521.3 733h32M1477.3 737h8M1521.3 737h24M1553.3 737h20M1473.3 741h8M1517.3 741h32M1573.3 741h12M1417.3 745h20M1473.3 745h4M1517.3 745h32M1581.3 745h20M1405.3 749h12M1437.3 749h8M1469.3 749h8M1517.3 749h32M1605.3 749h20M1393.3 753h16M1441.3 753h8M1465.3 753h8M1513.3 753h32M1625.3 753h28M1221.3 757h16M1321.3 757h12M1381.3 757h20M1441.3 757h8M1461.3 757h12M1513.3 757h28M1633.3 757h88M1729.3 757h68M1221.3 761h44M1309.3 761h88M1445.3 761h8M1457.3 761h16M1513.3 761h24M1637.3 761h56M1713.3 761h24M1761.3 761h56M1261.3 765h60M1333.3 765h60M1445.3 765h28M1513.3 765h20M1641.3 765h52M1713.3 765h24M1761.3 765h44M1277.3 769h40M1373.3 769h20M1445.3 769h28M1513.3 769h20M1637.3 769h56M1713.3 769h28M1753.3 769h48M1285.3 773h32M1449.3 773h32M1513.3 773h20M1605.3 773h4M1633.3 773h64M1709.3 773h92M1289.3 777h28M1449.3 777h84M1601.3 777h16M1625.3 777h176M1289.3 781h28M1453.3 781h80M1597.3 781h204M1285.3 785h32M1453.3 785h84M1597.3 785h204M1281.3 789h32M1457.3 789h80M1597.3 789h88M1701.3 789h100M1269.3 793h40M1457.3 793h48M1525.3 793h8M1597.3 793h32M1705.3 793h96M1261.3 797h48M1457.3 797h44M1597.3 797h32M1705.3 797h72M1789.3 797h12M1261.3 801h44M1457.3 801h40M1601.3 801h28M1705.3 801h68M1261.3 805h8M1277.3 805h24M1457.3 805h40M1601.3 805h28M1665.3 805h12M1705.3 805h64M1261.3 809h8M1281.3 809h20M1409.3 809h8M1445.3 809h28M1485.3 809h8M1605.3 809h28M1665.3 809h16M1705.3 809h12M1753.3 809h8M1261.3 813h4M1281.3 813h16M1405.3 813h64M1485.3 813h8M1609.3 813h24M1661.3 813h28M1261.3 817h4M1281.3 817h16M1401.3 817h68M1485.3 817h8M1545.3 817h4M1613.3 817h20M1653.3 817h40M1261.3 821h4M1281.3 821h12M1373.3 821h36M1421.3 821h44M1485.3 821h8M1537.3 821h24M1621.3 821h12M1649.3 821h48M1261.3 825h8M1281.3 825h12M1369.3 825h40M1445.3 825h20M1485.3 825h8M1533.3 825h28M1625.3 825h8M1645.3 825h56"/><path stroke="#313131" stroke-width="4.6" d="M1221.3 577h20M1545.3 577h20M1765.3 577h8M1221.3 581h20M1545.3 581h24M1765.3 581h8M1225.3 585h12M1549.3 585h20M1549.3 589h24M1549.3 593h24M1221.3 597h12M1553.3 597h24M1221.3 601h28M1285.3 601h32M1553.3 601h24M1257.3 605h32M1313.3 605h8M1557.3 605h16M1321.3 609h8M1329.3 613h16M1353.3 617h12M1373.3 621h16M1697.3 621h20M1749.3 621h12M1773.3 621h44M1397.3 625h20M1629.3 625h32M1417.3 629h12M1601.3 629h8M1433.3 633h20M1541.3 633h20M1457.3 637h24M1505.3 637h8M1585.3 657h8M1645.3 657h44M1721.3 657h36M1793.3 657h24M1561.3 661h8M1657.3 661h24M1733.3 661h16M1517.3 665h4M1533.3 665h20M1657.3 665h24M1737.3 665h12M1517.3 669h4M1661.3 669h16M1741.3 669h8M1517.3 673h4M1513.3 677h4M1509.3 681h4M1505.3 685h4M1497.3 689h12M1517.3 693h4M1549.3 697h8M1565.3 701h4M1581.3 705h4M1597.3 709h4M1617.3 713h20M1653.3 717h4M1493.3 721h4M1709.3 721h28M1789.3 721h20M1485.3 725h4M1513.3 725h8M1481.3 729h4M1529.3 729h12M1477.3 733h4M1553.3 733h8M1473.3 737h4M1573.3 737h4M1421.3 741h16M1469.3 741h4M1585.3 741h8M1405.3 745h12M1437.3 745h8M1465.3 745h8M1601.3 745h8M1393.3 749h12M1445.3 749h24M1625.3 749h12M1317.3 753h16M1373.3 753h20M1449.3 753h16M1653.3 753h20M1237.3 757h24M1285.3 757h36M1333.3 757h48M1449.3 757h12M1721.3 757h8M1797.3 757h20M1265.3 761h44M1453.3 761h4M1269.3 805h8M1269.3 809h12M1473.3 809h12M1265.3 813h16M1469.3 813h16M1265.3 817h16M1469.3 817h16M1265.3 821h16M1409.3 821h12M1465.3 821h20M1269.3 825h12M1409.3 825h36M1465.3 825h20"/><path stroke="#363636" stroke-width="4.6" d="M1233.3 605h24M1289.3 605h24M1313.3 609h8M1325.3 613h4M1337.3 617h16M1361.3 621h12M1381.3 625h16M1661.3 625h24M1409.3 629h8M1609.3 629h8M1425.3 633h8M1561.3 633h16M1441.3 637h16M1513.3 637h12M1469.3 641h28M1685.3 653h52M1753.3 653h40M1577.3 657h8M1553.3 661h8M1513.3 665h4M1513.3 669h4M1509.3 673h8M1509.3 677h4M1505.3 681h4M1497.3 685h8M1493.3 689h4M1513.3 693h4M1537.3 697h12M1561.3 701h4M1577.3 705h4M1593.3 709h4M1609.3 713h8M1645.3 717h8M1485.3 721h8M1497.3 721h8M1673.3 721h36M1737.3 721h52M1481.3 725h4M1521.3 725h4M1473.3 729h8M1541.3 729h8M1469.3 733h8M1561.3 733h4M1465.3 737h8M1577.3 737h4M1409.3 741h12M1437.3 741h12M1457.3 741h12M1593.3 741h4M1393.3 745h12M1445.3 745h20M1609.3 745h4M1373.3 749h20M1637.3 749h12M1221.3 753h36M1289.3 753h28M1333.3 753h40M1673.3 753h44M1737.3 753h24M1261.3 757h24"/><path stroke="#3c3c3c" stroke-width="4.6" d="M1221.3 605h12M1257.3 609h56M1317.3 613h8M1329.3 617h8M1349.3 621h12M1369.3 625h12M1685.3 625h104M1393.3 629h16M1617.3 629h16M1417.3 633h8M1577.3 633h16M1429.3 637h12M1525.3 637h12M1449.3 641h20M1497.3 641h4M1613.3 653h72M1737.3 653h16M1793.3 653h24M1569.3 657h8M1529.3 661h24M1509.3 665h4M1509.3 669h4M1505.3 677h4M1501.3 681h4M1493.3 685h4M1485.3 689h8M1501.3 693h12M1529.3 697h8M1573.3 705h4M1589.3 709h4M1605.3 713h4M1637.3 717h8M1481.3 721h4M1505.3 721h8M1661.3 721h12M1473.3 725h8M1525.3 725h4M1469.3 729h4M1549.3 729h4M1465.3 733h4M1565.3 733h8M1417.3 737h24M1457.3 737h8M1581.3 737h4M1397.3 741h12M1449.3 741h8M1597.3 741h4M1377.3 745h16M1613.3 745h12M1221.3 749h24M1293.3 749h80M1649.3 749h12M1257.3 753h32M1717.3 753h20M1761.3 753h56"/><path stroke="#414141" stroke-width="4.6" d="M1221.3 609h36M1309.3 613h8M1321.3 617h8M1337.3 621h12M1361.3 625h8M1789.3 625h28M1381.3 629h12M1633.3 629h28M1405.3 633h12M1593.3 633h12M1421.3 637h8M1537.3 637h16M1437.3 641h12M1501.3 641h8M1469.3 645h8M1697.3 649h8M1589.3 653h24M1561.3 657h8M1513.3 661h16M1505.3 665h4M1505.3 669h4M1505.3 673h4M1501.3 677h4M1497.3 681h4M1489.3 685h4M1481.3 689h4M1489.3 693h12M1521.3 697h8M1557.3 701h4M1569.3 705h4M1585.3 709h4M1601.3 713h4M1629.3 717h8M1473.3 721h8M1513.3 721h4M1657.3 721h4M1469.3 725h4M1529.3 725h8M1797.3 725h20M1461.3 729h8M1553.3 729h4M1457.3 733h8M1573.3 733h4M1405.3 737h12M1441.3 737h16M1585.3 737h4M1385.3 741h12M1601.3 741h4M1305.3 745h72M1625.3 745h8M1245.3 749h48M1661.3 749h12"/><path stroke="#474747" stroke-width="4.6" d="M1261.3 613h48M1317.3 617h4M1329.3 621h8M1349.3 625h12M1369.3 629h12M1661.3 629h32M1717.3 629h24M1769.3 629h4M1393.3 633h12M1605.3 633h12M1417.3 637h4M1553.3 637h20M1429.3 641h8M1509.3 641h8M1449.3 645h20M1477.3 645h12M1681.3 649h16M1705.3 649h92M1577.3 653h12M1553.3 657h8M1505.3 661h8M1501.3 665h4M1501.3 669h4M1501.3 673h4M1497.3 677h4M1493.3 681h4M1485.3 685h4M1477.3 689h4M1481.3 693h8M1517.3 697h4M1549.3 701h8M1565.3 705h4M1581.3 709h4M1597.3 713h4M1481.3 717h16M1617.3 717h12M1469.3 721h4M1517.3 721h4M1649.3 721h8M1461.3 725h8M1537.3 725h4M1697.3 725h100M1457.3 729h4M1557.3 729h8M1413.3 733h44M1577.3 733h4M1393.3 737h12M1589.3 737h4M1365.3 741h20M1605.3 741h4M1221.3 745h40M1281.3 745h24M1633.3 745h8M1673.3 749h36"/><path stroke="#4c4c4c" stroke-width="4.6" d="M1225.3 613h36M1309.3 617h8M1325.3 621h4M1341.3 625h8M1361.3 629h8M1693.3 629h24M1741.3 629h28M1773.3 629h20M1381.3 633h12M1617.3 633h16M1409.3 637h8M1573.3 637h20M1425.3 641h4M1517.3 641h16M1441.3 645h8M1489.3 645h12M1617.3 649h64M1797.3 649h20M1569.3 653h8M1541.3 657h12M1501.3 661h4M1497.3 665h4M1497.3 669h4M1497.3 673h4M1493.3 677h4M1489.3 681h4M1481.3 685h4M1469.3 689h8M1513.3 697h4M1541.3 701h8M1577.3 709h4M1593.3 713h4M1497.3 717h8M1609.3 717h8M1461.3 721h8M1521.3 721h4M1641.3 721h8M1457.3 725h4M1541.3 725h8M1673.3 725h24M1425.3 729h16M1445.3 729h12M1565.3 729h4M1401.3 733h12M1581.3 733h4M1381.3 737h12M1593.3 737h4M1221.3 741h8M1289.3 741h76M1609.3 741h4M1261.3 745h20M1641.3 745h12M1709.3 749h12M1733.3 749h60"/><path stroke="#515151" stroke-width="4.6" d="M1221.3 613h4M1269.3 617h40M1317.3 621h8M1333.3 625h8M1353.3 629h8M1793.3 629h24M1373.3 633h8M1633.3 633h32M1689.3 633h8M1709.3 633h36M1761.3 633h20M1397.3 637h12M1593.3 637h16M1417.3 641h8M1533.3 641h28M1433.3 645h8M1501.3 645h8M1685.3 645h104M1453.3 649h24M1581.3 649h36M1561.3 653h8M1513.3 657h28M1497.3 661h4M1493.3 665h4M1493.3 669h4M1493.3 673h4M1489.3 677h4M1485.3 681h4M1473.3 685h8M1465.3 689h4M1477.3 693h4M1497.3 697h16M1529.3 701h12M1561.3 705h4M1573.3 709h4M1585.3 713h8M1477.3 717h4M1505.3 717h8M1605.3 717h4M1457.3 721h4M1525.3 721h8M1633.3 721h8M1449.3 725h8M1549.3 725h4M1661.3 725h12M1409.3 729h16M1441.3 729h4M1569.3 729h4M1809.3 729h8M1389.3 733h12M1585.3 733h4M1349.3 737h32M1597.3 737h4M1229.3 741h60M1613.3 741h12M1653.3 745h12M1721.3 749h12M1793.3 749h24"/><path stroke="#575757" stroke-width="4.6" d="M1253.3 617h16M1309.3 621h8M1325.3 625h8M1349.3 629h4M1365.3 633h8M1665.3 633h24M1697.3 633h12M1745.3 633h16M1781.3 633h16M1385.3 637h12M1609.3 637h48M1681.3 637h108M1409.3 641h8M1561.3 641h64M1685.3 641h104M1425.3 645h8M1509.3 645h20M1561.3 645h124M1789.3 645h16M1441.3 649h12M1477.3 649h20M1561.3 649h20M1545.3 653h16M1501.3 657h12M1489.3 661h8M1489.3 665h4M1489.3 669h4M1489.3 673h4M1485.3 677h4M1481.3 681h4M1469.3 685h4M1461.3 689h4M1485.3 697h12M1521.3 701h8M1557.3 705h4M1569.3 709h4M1581.3 713h4M1473.3 717h4M1513.3 717h4M1601.3 717h4M1449.3 721h8M1533.3 721h4M1625.3 721h8M1421.3 725h28M1553.3 725h4M1653.3 725h8M1397.3 729h12M1573.3 729h4M1705.3 729h104M1373.3 733h16M1589.3 733h4M1221.3 737h16M1277.3 737h72M1601.3 737h4M1625.3 741h12M1665.3 745h36"/><path stroke="#5c5c5c" stroke-width="4.6" d="M1221.3 617h32M1281.3 621h28M1321.3 625h4M1341.3 629h8M1361.3 633h4M1797.3 633h20M1377.3 637h8M1657.3 637h24M1789.3 637h12M1401.3 641h8M1625.3 641h60M1789.3 641h16M1417.3 645h8M1529.3 645h32M1805.3 645h12M1433.3 649h8M1497.3 649h64M1453.3 653h20M1485.3 653h60M1489.3 657h12M1485.3 661h4M1485.3 665h4M1485.3 669h4M1485.3 673h4M1481.3 677h4M1473.3 681h8M1465.3 685h4M1453.3 689h8M1473.3 693h4M1481.3 697h4M1513.3 701h8M1549.3 705h8M1565.3 709h4M1481.3 713h24M1577.3 713h4M1517.3 717h8M1593.3 717h8M1433.3 721h16M1537.3 721h8M1621.3 721h4M1405.3 725h16M1557.3 725h8M1645.3 725h8M1385.3 729h12M1577.3 729h8M1673.3 729h32M1289.3 733h44M1341.3 733h32M1593.3 733h4M1237.3 737h40M1605.3 737h4M1637.3 741h12M1701.3 745h20M1729.3 745h68"/><path stroke="#626262" stroke-width="4.6" d="M1265.3 621h16M1317.3 625h4M1333.3 629h8M1353.3 633h8M1369.3 637h8M1801.3 637h16M1389.3 641h12M1805.3 641h12M1413.3 645h4M1429.3 649h4M1445.3 653h8M1473.3 653h12M1473.3 657h16M1481.3 661h4M1481.3 665h4M1481.3 669h4M1481.3 673h4M1477.3 677h4M1469.3 681h4M1457.3 685h8M1445.3 689h8M1477.3 697h4M1485.3 701h28M1525.3 705h24M1477.3 713h4M1505.3 713h12M1573.3 713h4M1469.3 717h4M1525.3 717h8M1581.3 717h12M1413.3 721h20M1545.3 721h4M1609.3 721h12M1393.3 725h12M1565.3 725h8M1633.3 725h12M1361.3 729h24M1585.3 729h4M1657.3 729h16M1221.3 733h68M1333.3 733h8M1597.3 733h4M1701.3 733h68M1781.3 733h36M1609.3 737h8M1649.3 741h32M1693.3 741h16M1741.3 741h16M1721.3 745h8M1797.3 745h20"/><path stroke="#676767" stroke-width="4.6" d="M1249.3 621h16M1305.3 625h12M1325.3 629h8M1349.3 633h4M1365.3 637h4M1381.3 641h8M1405.3 645h8M1421.3 649h8M1437.3 653h8M1457.3 657h16M1473.3 661h8M1477.3 665h4M1477.3 669h4M1477.3 673h4M1473.3 677h4M1465.3 681h4M1453.3 685h4M1437.3 689h8M1469.3 693h4M1481.3 701h4M1481.3 705h44M1477.3 709h52M1561.3 709h4M1517.3 713h12M1569.3 713h4M1465.3 717h4M1533.3 717h8M1573.3 717h8M1397.3 721h16M1549.3 721h4M1573.3 721h36M1373.3 725h20M1573.3 725h16M1625.3 725h8M1261.3 729h100M1589.3 729h8M1641.3 729h16M1601.3 733h4M1653.3 733h48M1769.3 733h12M1617.3 737h200M1681.3 741h12M1709.3 741h32M1757.3 741h60"/><path stroke="#6d6d6d" stroke-width="4.6" d="M1221.3 621h28M1285.3 625h20M1321.3 629h4M1341.3 633h8M1357.3 637h8M1373.3 641h8M1393.3 645h12M1413.3 649h8M1429.3 653h8M1445.3 657h12M1461.3 661h12M1469.3 665h8M1473.3 669h4M1473.3 673h4M1465.3 677h8M1457.3 681h8M1445.3 685h8M1429.3 689h8M1477.3 701h4M1477.3 705h4M1529.3 709h24M1529.3 713h16M1565.3 713h4M1461.3 717h4M1541.3 717h8M1565.3 717h8M1381.3 721h16M1561.3 721h12M1345.3 725h28M1589.3 725h16M1621.3 725h4M1221.3 729h40M1597.3 729h4M1625.3 729h16M1625.3 733h28"/><path stroke="#727272" stroke-width="4.6" d="M1269.3 625h16M1313.3 629h8M1333.3 633h8M1353.3 637h4M1369.3 641h4M1385.3 645h8M1405.3 649h8M1421.3 653h8M1437.3 657h8M1453.3 661h8M1461.3 665h8M1465.3 669h8M1465.3 673h8M1461.3 677h4M1453.3 681h4M1441.3 685h4M1417.3 689h12M1353.3 693h12M1465.3 693h4M1353.3 697h8M1473.3 697h4M1553.3 709h8M1473.3 713h4M1545.3 713h4M1397.3 717h36M1453.3 717h8M1353.3 721h28M1553.3 721h8M1221.3 725h124M1605.3 725h4M1601.3 729h4M1605.3 733h4M1621.3 733h4"/><path stroke="#777777" stroke-width="4.6" d="M1245.3 625h24M1305.3 629h8M1329.3 633h4M1349.3 637h4M1365.3 641h4M1381.3 645h4M1401.3 649h4M1417.3 653h4M1429.3 657h8M1445.3 661h8M1453.3 665h8M1461.3 669h4M1461.3 673h4M1453.3 677h8M1445.3 681h8M1433.3 685h8M1401.3 689h16M1337.3 693h16M1365.3 693h4M1325.3 697h28M1473.3 701h4M1473.3 705h4M1473.3 709h4M1549.3 713h4M1353.3 717h44M1433.3 717h20M1549.3 717h4M1221.3 721h8M1237.3 721h116M1617.3 725h4M1621.3 729h4M1617.3 733h4"/><path stroke="#7d7d7d" stroke-width="4.6" d="M1221.3 625h24M1293.3 629h12M1321.3 633h8M1345.3 637h4M1357.3 641h8M1373.3 645h8M1393.3 649h8M1409.3 653h8M1421.3 657h8M1437.3 661h8M1445.3 665h8M1453.3 669h8M1453.3 673h8M1449.3 677h4M1441.3 681h4M1421.3 685h12M1365.3 689h36M1325.3 693h12M1369.3 693h4M1461.3 693h4M1221.3 697h104M1361.3 697h4M1329.3 701h36M1353.3 705h8M1353.3 709h8M1345.3 713h20M1469.3 713h4M1561.3 713h4M1221.3 717h132M1561.3 717h4M1229.3 721h8M1609.3 725h8M1609.3 733h8"/><path stroke="#828282" stroke-width="4.6" d="M1273.3 629h20M1317.3 633h4M1337.3 637h8M1353.3 641h4M1369.3 645h4M1385.3 649h8M1401.3 653h8M1417.3 657h4M1429.3 661h8M1441.3 665h4M1445.3 669h8M1445.3 673h8M1441.3 677h8M1433.3 681h8M1413.3 685h8M1357.3 689h8M1221.3 693h44M1313.3 693h12M1373.3 693h4M1469.3 697h4M1221.3 701h108M1245.3 705h32M1309.3 705h44M1361.3 705h4M1241.3 709h48M1293.3 709h60M1361.3 709h4M1469.3 709h4M1221.3 713h124M1365.3 713h4M1605.3 729h4"/><path stroke="#888888" stroke-width="4.6" d="M1249.3 629h24M1309.3 633h8M1329.3 637h8M1349.3 641h4M1365.3 645h4M1377.3 649h8M1393.3 653h8M1409.3 657h8M1421.3 661h8M1429.3 665h12M1437.3 669h8M1441.3 673h4M1433.3 677h8M1421.3 681h12M1393.3 685h20M1349.3 689h8M1265.3 693h48M1377.3 693h4M1469.3 701h4M1221.3 705h24M1277.3 705h32M1469.3 705h4M1221.3 709h20M1289.3 709h4M1369.3 713h4M1465.3 713h4M1553.3 713h8M1553.3 717h8M1617.3 729h4"/><path stroke="#8d8d8d" stroke-width="4.6" d="M1221.3 629h28M1297.3 633h12M1325.3 637h4M1345.3 641h4M1357.3 645h8M1369.3 649h8M1389.3 653h4M1401.3 657h8M1413.3 661h8M1425.3 665h4M1429.3 669h8M1429.3 673h12M1425.3 677h8M1413.3 681h8M1369.3 685h24M1337.3 689h12M1381.3 693h4M1453.3 693h8M1365.3 697h4M1465.3 697h4M1365.3 709h4M1373.3 713h4M1609.3 729h8"/><path stroke="#929292" stroke-width="4.6" d="M1281.3 633h16M1317.3 637h8M1341.3 641h4M1353.3 645h4M1365.3 649h4M1381.3 653h8M1397.3 657h4M1409.3 661h4M1417.3 665h8M1421.3 669h8M1421.3 673h8M1417.3 677h8M1401.3 681h12M1361.3 685h8M1325.3 689h12M1385.3 693h4M1441.3 693h12M1369.3 697h4M1365.3 701h4M1465.3 701h4M1365.3 705h4M1465.3 705h4M1465.3 709h4M1377.3 713h4M1461.3 713h4"/><path stroke="#989898" stroke-width="4.6" d="M1257.3 633h24M1309.3 637h8M1333.3 641h8M1349.3 645h4M1361.3 649h4M1373.3 653h8M1389.3 657h8M1401.3 661h8M1409.3 665h8M1413.3 669h8M1417.3 673h4M1409.3 677h8M1381.3 681h20M1353.3 685h8M1221.3 689h44M1313.3 689h12M1389.3 693h24M1433.3 693h8M1373.3 697h4M1461.3 697h4M1369.3 701h4M1369.3 705h4M1369.3 709h4M1381.3 713h4"/><path stroke="#9d9d9d" stroke-width="4.6" d="M1221.3 633h36M1301.3 637h8M1325.3 641h8M1345.3 645h4M1357.3 649h4M1369.3 653h4M1381.3 657h8M1393.3 661h8M1401.3 665h8M1409.3 669h4M1409.3 673h8M1397.3 677h12M1369.3 681h12M1349.3 685h4M1265.3 689h48M1413.3 693h20M1377.3 697h4M1373.3 701h4M1461.3 701h4M1373.3 705h4M1461.3 705h4M1373.3 709h4M1461.3 709h4M1385.3 713h4M1453.3 713h8"/><path stroke="#a3a3a3" stroke-width="4.6" d="M1293.3 637h8M1321.3 641h4M1341.3 645h4M1353.3 649h4M1365.3 653h4M1373.3 657h8M1385.3 661h8M1393.3 665h8M1401.3 669h8M1397.3 673h12M1385.3 677h12M1361.3 681h8M1337.3 685h12M1381.3 697h4M1377.3 701h4M1377.3 705h4M1377.3 709h4M1389.3 713h36M1433.3 713h20"/><path stroke="#a8a8a8" stroke-width="4.6" d="M1269.3 637h24M1313.3 641h8M1333.3 645h8M1349.3 649h4M1361.3 653h4M1369.3 657h4M1377.3 661h8M1385.3 665h8M1389.3 669h12M1389.3 673h8M1369.3 677h16M1357.3 681h4M1325.3 685h12M1453.3 697h8M1381.3 701h4M1381.3 705h4M1381.3 709h4M1457.3 709h4M1425.3 713h8"/><path stroke="#aeaeae" stroke-width="4.6" d="M1221.3 637h48M1305.3 641h8M1329.3 645h4M1345.3 649h4M1357.3 653h4M1365.3 657h4M1369.3 661h8M1377.3 665h8M1381.3 669h8M1377.3 673h12M1365.3 677h4M1349.3 681h8M1221.3 685h44M1313.3 685h12M1385.3 697h8M1441.3 697h12M1385.3 701h4M1453.3 701h8M1453.3 705h8M1385.3 709h4M1449.3 709h8"/><path stroke="#b3b3b3" stroke-width="4.6" d="M1297.3 641h8M1321.3 645h8M1341.3 649h4M1353.3 653h4M1361.3 657h4M1365.3 661h4M1369.3 665h8M1373.3 669h8M1369.3 673h8M1361.3 677h4M1345.3 681h4M1265.3 685h48M1393.3 697h28M1433.3 697h8M1389.3 701h8M1441.3 701h12M1385.3 705h12M1441.3 705h12M1389.3 709h24M1437.3 709h12"/><path stroke="#b8b8b8" stroke-width="4.6" d="M1277.3 641h20M1313.3 645h8M1333.3 649h8M1349.3 653h4M1357.3 657h4M1361.3 661h4M1365.3 665h4M1365.3 669h8M1365.3 673h4M1357.3 677h4M1333.3 681h12M1421.3 697h12M1397.3 701h28M1429.3 701h12M1397.3 705h28M1429.3 705h12M1413.3 709h24"/><path stroke="#bebebe" stroke-width="4.6" d="M1221.3 641h56M1305.3 645h8M1329.3 649h4M1345.3 653h4M1353.3 657h4M1357.3 661h4M1361.3 665h4M1361.3 669h4M1361.3 673h4M1349.3 677h8M1325.3 681h8M1425.3 701h4M1425.3 705h4"/><path stroke="#c3c3c3" stroke-width="4.6" d="M1297.3 645h8M1321.3 649h8M1341.3 653h4M1349.3 657h4M1357.3 665h4M1357.3 669h4M1353.3 673h8M1345.3 677h4M1221.3 681h44M1309.3 681h16"/><path stroke="#c9c9c9" stroke-width="4.6" d="M1285.3 645h12M1313.3 649h8M1333.3 653h8M1345.3 657h4M1353.3 661h4M1353.3 665h4M1353.3 669h4M1349.3 673h4M1337.3 677h8M1265.3 681h44"/><path stroke="#cecece" stroke-width="4.6" d="M1221.3 645h64M1305.3 649h8M1325.3 653h8M1341.3 657h4M1349.3 661h4M1349.3 665h4M1349.3 669h4M1345.3 673h4M1325.3 677h12"/><path stroke="#d4d4d4" stroke-width="4.6" d="M1297.3 649h8M1317.3 653h8M1333.3 657h8M1345.3 661h4M1345.3 665h4M1345.3 669h4M1341.3 673h4M1313.3 677h12"/><path stroke="#d9d9d9" stroke-width="4.6" d="M1253.3 649h44M1309.3 653h8M1325.3 657h8M1337.3 661h8M1341.3 665h4M1341.3 669h4M1329.3 673h12M1221.3 677h56M1301.3 677h12"/><path stroke="#dedede" stroke-width="4.6" d="M1221.3 649h32M1301.3 653h8M1317.3 657h8M1329.3 661h8M1333.3 665h8M1333.3 669h8M1317.3 673h12M1277.3 677h24"/><path stroke="#e4e4e4" stroke-width="4.6" d="M1293.3 653h8M1309.3 657h8M1321.3 661h8M1325.3 665h8M1321.3 669h12M1221.3 673h12M1309.3 673h8"/><path stroke="#e9e9e9" stroke-width="4.6" d="M1221.3 653h72M1301.3 657h8M1309.3 661h12M1317.3 665h8M1313.3 669h8M1233.3 673h48M1297.3 673h12"/><path stroke="#efefef" stroke-width="4.6" d="M1233.3 657h44M1293.3 657h8M1301.3 661h8M1305.3 665h12M1221.3 669h12M1241.3 669h24M1301.3 669h12M1281.3 673h16"/><path stroke="#f4f4f4" stroke-width="4.6" d="M1221.3 657h12M1277.3 657h16M1221.3 661h56M1293.3 661h8M1221.3 665h48M1297.3 665h8M1233.3 669h8M1265.3 669h16M1293.3 669h8"/><path stroke="#fafafa" stroke-width="4.6" d="M1277.3 661h16M1269.3 665h28M1281.3 669h12"/></g>
</g></g>
<rect x="1722.5" y="586.5" width="81.8" height="228" fill="none" stroke="#ea3a3c" stroke-width="6" stroke-dasharray="13 7.5"/>
<text x="1371" y="634.4" font-size="53" fill="#fff"><tspan font-style="italic">B</tspan><tspan font-size="27" dy="10">2</tspan><tspan dy="-10" dx="14" font-size="52">= 53.2 mT</tspan></text>
<rect x="952" y="950.2" width="926.5" height="346" fill="#575757"/>
<rect x="952" y="950.2" width="926.5" height="346" filter="url(#grain)"/>
<polyline points="952,1083.2 1525,1083.2 1585,1068.2 1650,1057.2 1665,1056.7 1878.5,1056.7" fill="none" stroke="#8e8e8e" stroke-width="2.6" stroke-linejoin="round"/>
<polyline points="952,1103.6 1535,1103.6 1595,1088.2 1650,1077.7 1665,1076.7 1878.5,1076.7" fill="none" stroke="#8e8e8e" stroke-width="2.6" stroke-linejoin="round"/>
<polyline points="1353,1147.2 1353,1126.2 1535,1126.2 1600,1147.2 1655,1161.2 1670,1162.2 1878.5,1162.2" fill="none" stroke="#8e8e8e" stroke-width="2.6" stroke-linejoin="round"/>
<polyline points="1353,1147.2 1525,1147.2 1595,1169.2 1650,1182.2 1665,1183.2 1878.5,1183.2" fill="none" stroke="#8e8e8e" stroke-width="2.6" stroke-linejoin="round"/>
<line x1="952" y1="1083.2" x2="1232" y2="1083.2" stroke="#a9a9a9" stroke-width="2.8"/>
<line x1="952" y1="1103.6" x2="1232" y2="1103.6" stroke="#a9a9a9" stroke-width="2.8"/>
<line x1="1807" y1="1056.7" x2="1878.5" y2="1056.7" stroke="#a9a9a9" stroke-width="2.8"/>
<line x1="1807" y1="1076.7" x2="1878.5" y2="1076.7" stroke="#a9a9a9" stroke-width="2.8"/>
<line x1="1807" y1="1162.2" x2="1878.5" y2="1162.2" stroke="#a9a9a9" stroke-width="2.8"/>
<line x1="1807" y1="1183.2" x2="1878.5" y2="1183.2" stroke="#a9a9a9" stroke-width="2.8"/>
<rect x="1080" y="950.2" width="40.5" height="346" fill="#f6d592"/>
<rect x="1084.5" y="950.2" width="31.5" height="346" fill="#bc9047"/>
<rect x="1084.5" y="1084.2" width="31.5" height="18.4" fill="#d2a862"/>
<line x1="1080" y1="1083.2" x2="1120.5" y2="1083.2" stroke="#f2d49a" stroke-width="3.2"/>
<line x1="1080" y1="1103.6" x2="1120.5" y2="1103.6" stroke="#f2d49a" stroke-width="3.2"/>
<rect x="1174" y="950.2" width="40.5" height="346" fill="#f6d592"/>
<rect x="1178.5" y="950.2" width="31.5" height="346" fill="#bc9047"/>
<rect x="1178.5" y="1084.2" width="31.5" height="18.4" fill="#d2a862"/>
<line x1="1174" y1="1083.2" x2="1214.5" y2="1083.2" stroke="#f2d49a" stroke-width="3.2"/>
<line x1="1174" y1="1103.6" x2="1214.5" y2="1103.6" stroke="#f2d49a" stroke-width="3.2"/>
<circle cx="1022" cy="1169.2" r="2.8" fill="#d0d0d0"/>
<circle cx="1023" cy="1080.2" r="2.2" fill="#c8c8c8"/>
<circle cx="1149" cy="1089.2" r="2.2" fill="#bdbdbd"/>
<circle cx="1153" cy="1094.2" r="2" fill="#bdbdbd"/>
<circle cx="1150" cy="1099.2" r="1.8" fill="#bdbdbd"/>
<circle cx="1155" cy="1103.2" r="2" fill="#bdbdbd"/>
<circle cx="1157" cy="1108.2" r="1.6" fill="#bdbdbd"/>
<circle cx="1746" cy="1288.2" r="3.4" fill="#b8b8b8"/>
<circle cx="1811" cy="1195.2" r="3" fill="#b8b8b8"/>
<rect x="951" y="949.2" width="75.5" height="80.3" fill="#fff"/>
<clipPath id="hc2"><rect x="1231.3" y="1006" width="575.7" height="236.5"/></clipPath>
<g clip-path="url(#hc2)" opacity="0.7"><g filter="url(#jet)">
<rect x="1201.3" y="976" width="635.7" height="296.5" fill="#1a1a1a"/>
<g fill="none"><path stroke="#212121" stroke-width="4.6" d="M1469.3 998h28M1733.3 998h32M1473.3 1002h24M1733.3 1002h28M1477.3 1006h16M1729.3 1006h28M1725.3 1010h28M1377.3 1014h12M1721.3 1014h28M1809.3 1014h8M1373.3 1018h16M1721.3 1018h24M1809.3 1018h8M1373.3 1022h16M1721.3 1022h20M1805.3 1022h12M1369.3 1026h20M1729.3 1026h4M1809.3 1026h8M1373.3 1030h16M1377.3 1034h12M1381.3 1038h8M1329.3 1042h4M1617.3 1090h12M1805.3 1090h12M1609.3 1094h24M1609.3 1098h24M1609.3 1102h24M1625.3 1106h4M1737.3 1106h20M1737.3 1110h28M1733.3 1114h36M1733.3 1118h36M1733.3 1122h32M1733.3 1126h28M1733.3 1130h20M1613.3 1182h20M1613.3 1186h20M1609.3 1190h24M1609.3 1194h20M1609.3 1198h20M1605.3 1202h24M1605.3 1206h24M1741.3 1206h12M1309.3 1210h8M1609.3 1210h20M1737.3 1210h20M1309.3 1214h8M1613.3 1214h12M1737.3 1214h20M1305.3 1218h12M1741.3 1218h12M1305.3 1222h12M1513.3 1222h16M1309.3 1226h4M1509.3 1226h20M1509.3 1230h20M1509.3 1234h20M1513.3 1238h12M1409.3 1250h4M1401.3 1254h16"/><path stroke="#262626" stroke-width="4.6" d="M1225.3 998h28M1313.3 998h96M1441.3 998h28M1497.3 998h12M1557.3 998h12M1713.3 998h20M1765.3 998h16M1797.3 998h20M1225.3 1002h32M1313.3 1002h96M1441.3 1002h32M1497.3 1002h16M1553.3 1002h20M1713.3 1002h20M1761.3 1002h16M1797.3 1002h20M1225.3 1006h36M1313.3 1006h92M1441.3 1006h36M1493.3 1006h20M1529.3 1006h44M1709.3 1006h20M1757.3 1006h12M1797.3 1006h20M1225.3 1010h40M1313.3 1010h92M1445.3 1010h128M1709.3 1010h16M1753.3 1010h12M1797.3 1010h20M1225.3 1014h40M1313.3 1014h64M1389.3 1014h12M1453.3 1014h120M1709.3 1014h12M1749.3 1014h12M1797.3 1014h12M1225.3 1018h44M1309.3 1018h64M1389.3 1018h12M1461.3 1018h28M1517.3 1018h52M1709.3 1018h12M1745.3 1018h12M1797.3 1018h12M1225.3 1022h44M1305.3 1022h68M1389.3 1022h12M1517.3 1022h44M1709.3 1022h12M1741.3 1022h16M1797.3 1022h8M1229.3 1026h48M1301.3 1026h68M1389.3 1026h8M1521.3 1026h40M1709.3 1026h20M1733.3 1026h24M1797.3 1026h12M1233.3 1030h140M1389.3 1030h8M1521.3 1030h36M1609.3 1030h16M1661.3 1030h16M1709.3 1030h48M1793.3 1030h24M1237.3 1034h140M1389.3 1034h12M1521.3 1034h28M1609.3 1034h72M1709.3 1034h48M1793.3 1034h24M1249.3 1038h132M1389.3 1038h12M1517.3 1038h20M1605.3 1038h80M1701.3 1038h24M1749.3 1038h12M1793.3 1038h24M1281.3 1042h48M1333.3 1042h68M1485.3 1042h4M1509.3 1042h24M1605.3 1042h116M1793.3 1042h24M1309.3 1046h48M1369.3 1046h32M1485.3 1046h12M1505.3 1046h28M1565.3 1046h16M1605.3 1046h44M1673.3 1046h44M1797.3 1046h12M1325.3 1050h28M1377.3 1050h20M1485.3 1050h48M1561.3 1050h28M1605.3 1050h24M1381.3 1054h8M1501.3 1054h28M1565.3 1054h16M1793.3 1086h24M1609.3 1090h8M1629.3 1090h8M1721.3 1090h32M1769.3 1090h36M1601.3 1094h8M1633.3 1094h8M1721.3 1094h96M1561.3 1098h12M1597.3 1098h12M1633.3 1098h20M1725.3 1098h92M1557.3 1102h16M1597.3 1102h12M1633.3 1102h28M1725.3 1102h92M1557.3 1106h20M1593.3 1106h32M1629.3 1106h32M1725.3 1106h12M1757.3 1106h44M1561.3 1110h20M1593.3 1110h68M1721.3 1110h16M1765.3 1110h20M1565.3 1114h24M1613.3 1114h52M1721.3 1114h12M1769.3 1114h16M1569.3 1118h20M1621.3 1118h44M1717.3 1118h16M1769.3 1118h12M1625.3 1122h40M1713.3 1122h20M1765.3 1122h16M1625.3 1126h40M1705.3 1126h28M1761.3 1126h16M1625.3 1130h36M1709.3 1130h24M1753.3 1130h24M1625.3 1134h28M1717.3 1134h60M1625.3 1138h24M1721.3 1138h60M1629.3 1142h12M1725.3 1142h56M1725.3 1146h60M1729.3 1150h56M1729.3 1154h48M1469.3 1158h20M1533.3 1158h12M1465.3 1162h28M1529.3 1162h28M1461.3 1166h32M1533.3 1166h24M1377.3 1170h24M1457.3 1170h36M1537.3 1170h20M1325.3 1174h28M1365.3 1174h36M1453.3 1174h36M1541.3 1174h16M1313.3 1178h88M1449.3 1178h40M1545.3 1178h12M1605.3 1178h32M1305.3 1182h96M1449.3 1182h40M1545.3 1182h20M1601.3 1182h12M1633.3 1182h8M1221.3 1186h24M1301.3 1186h100M1449.3 1186h36M1501.3 1186h20M1545.3 1186h24M1597.3 1186h16M1633.3 1186h8M1221.3 1190h28M1297.3 1190h84M1449.3 1190h32M1497.3 1190h28M1545.3 1190h32M1597.3 1190h12M1633.3 1190h8M1721.3 1190h16M1221.3 1194h32M1297.3 1194h36M1345.3 1194h28M1453.3 1194h24M1493.3 1194h36M1545.3 1194h36M1593.3 1194h16M1629.3 1194h12M1721.3 1194h20M1757.3 1194h24M1221.3 1198h36M1293.3 1198h40M1345.3 1198h24M1457.3 1198h16M1489.3 1198h48M1545.3 1198h36M1589.3 1198h20M1629.3 1198h8M1721.3 1198h64M1221.3 1202h36M1293.3 1202h36M1349.3 1202h16M1485.3 1202h56M1557.3 1202h12M1589.3 1202h16M1629.3 1202h12M1725.3 1202h60M1221.3 1206h40M1293.3 1206h36M1485.3 1206h56M1593.3 1206h12M1629.3 1206h12M1725.3 1206h16M1753.3 1206h28M1221.3 1210h40M1293.3 1210h16M1317.3 1210h12M1485.3 1210h56M1593.3 1210h16M1629.3 1210h12M1725.3 1210h12M1757.3 1210h20M1229.3 1214h32M1293.3 1214h16M1317.3 1214h12M1485.3 1214h56M1597.3 1214h16M1625.3 1214h20M1729.3 1214h8M1757.3 1214h20M1233.3 1218h32M1293.3 1218h12M1317.3 1218h12M1489.3 1218h52M1601.3 1218h52M1733.3 1218h8M1753.3 1218h20M1801.3 1218h16M1233.3 1222h32M1289.3 1222h16M1317.3 1222h12M1493.3 1222h20M1529.3 1222h12M1609.3 1222h48M1733.3 1222h36M1797.3 1222h20M1237.3 1226h28M1289.3 1226h20M1313.3 1226h12M1493.3 1226h16M1529.3 1226h12M1613.3 1226h12M1641.3 1226h20M1737.3 1226h28M1797.3 1226h20M1241.3 1230h16M1289.3 1230h36M1493.3 1230h16M1529.3 1230h16M1649.3 1230h4M1741.3 1230h16M1793.3 1230h24M1293.3 1234h32M1497.3 1234h12M1529.3 1234h16M1741.3 1234h12M1793.3 1234h24M1301.3 1238h20M1497.3 1238h16M1525.3 1238h20M1745.3 1238h8M1793.3 1238h24M1405.3 1242h12M1461.3 1242h16M1501.3 1242h40M1741.3 1242h12M1797.3 1242h20M1393.3 1246h32M1457.3 1246h20M1505.3 1246h36M1741.3 1246h12M1797.3 1246h20M1389.3 1250h20M1413.3 1250h12M1453.3 1250h28M1509.3 1250h32M1737.3 1250h16M1777.3 1250h12M1801.3 1250h16M1385.3 1254h16M1417.3 1254h8M1453.3 1254h28M1513.3 1254h28M1737.3 1254h16M1777.3 1254h12M1801.3 1254h16"/><path stroke="#2b2b2b" stroke-width="4.6" d="M1221.3 998h4M1253.3 998h60M1409.3 998h8M1429.3 998h12M1509.3 998h48M1569.3 998h92M1673.3 998h40M1781.3 998h16M1221.3 1002h4M1257.3 1002h56M1409.3 1002h8M1429.3 1002h12M1513.3 1002h40M1573.3 1002h88M1669.3 1002h44M1777.3 1002h20M1221.3 1006h4M1261.3 1006h52M1405.3 1006h12M1433.3 1006h8M1513.3 1006h16M1573.3 1006h136M1769.3 1006h28M1221.3 1010h4M1265.3 1010h48M1405.3 1010h8M1433.3 1010h12M1573.3 1010h136M1765.3 1010h12M1781.3 1010h16M1221.3 1014h4M1265.3 1014h48M1401.3 1014h12M1437.3 1014h16M1573.3 1014h136M1761.3 1014h8M1789.3 1014h8M1221.3 1018h4M1269.3 1018h40M1401.3 1018h8M1437.3 1018h24M1489.3 1018h28M1569.3 1018h140M1757.3 1018h8M1789.3 1018h8M1221.3 1022h4M1269.3 1022h36M1401.3 1022h8M1441.3 1022h76M1561.3 1022h148M1757.3 1022h8M1789.3 1022h8M1221.3 1026h8M1277.3 1026h24M1397.3 1026h8M1441.3 1026h80M1561.3 1026h20M1589.3 1026h120M1757.3 1026h8M1789.3 1026h8M1221.3 1030h12M1397.3 1030h8M1445.3 1030h76M1557.3 1030h20M1589.3 1030h20M1625.3 1030h36M1677.3 1030h32M1757.3 1030h12M1785.3 1030h8M1221.3 1034h16M1401.3 1034h8M1453.3 1034h68M1549.3 1034h60M1681.3 1034h28M1757.3 1034h16M1781.3 1034h12M1221.3 1038h28M1401.3 1038h12M1425.3 1038h8M1465.3 1038h52M1537.3 1038h68M1685.3 1038h16M1725.3 1038h24M1761.3 1038h32M1265.3 1042h16M1401.3 1042h36M1469.3 1042h16M1489.3 1042h20M1533.3 1042h72M1721.3 1042h12M1741.3 1042h52M1293.3 1046h16M1357.3 1046h12M1401.3 1046h36M1469.3 1046h16M1497.3 1046h8M1533.3 1046h32M1581.3 1046h24M1649.3 1046h24M1717.3 1046h8M1749.3 1046h28M1781.3 1046h16M1809.3 1046h8M1317.3 1050h8M1353.3 1050h24M1397.3 1050h40M1473.3 1050h12M1533.3 1050h28M1589.3 1050h16M1629.3 1050h12M1689.3 1050h20M1345.3 1054h36M1389.3 1054h44M1477.3 1054h24M1529.3 1054h36M1581.3 1054h16M1377.3 1058h12M1481.3 1058h56M1673.3 1086h120M1601.3 1090h8M1637.3 1090h84M1753.3 1090h16M1561.3 1094h40M1641.3 1094h80M1549.3 1098h12M1573.3 1098h24M1653.3 1098h72M1545.3 1102h12M1573.3 1102h24M1661.3 1102h64M1501.3 1106h16M1545.3 1106h12M1577.3 1106h16M1661.3 1106h64M1801.3 1106h16M1501.3 1110h8M1549.3 1110h12M1581.3 1110h12M1661.3 1110h60M1785.3 1110h32M1553.3 1114h12M1589.3 1114h24M1665.3 1114h56M1785.3 1114h32M1561.3 1118h8M1589.3 1118h32M1665.3 1118h52M1781.3 1118h36M1569.3 1122h56M1665.3 1122h48M1781.3 1122h36M1577.3 1126h28M1609.3 1126h16M1665.3 1126h40M1777.3 1126h32M1613.3 1130h12M1661.3 1130h48M1777.3 1130h24M1617.3 1134h8M1653.3 1134h64M1777.3 1134h24M1617.3 1138h8M1649.3 1138h72M1781.3 1138h24M1621.3 1142h8M1641.3 1142h84M1781.3 1142h28M1629.3 1146h20M1657.3 1146h68M1785.3 1146h24M1665.3 1150h36M1713.3 1150h16M1785.3 1150h24M1449.3 1154h56M1717.3 1154h12M1777.3 1154h24M1445.3 1158h24M1489.3 1158h44M1545.3 1158h12M1725.3 1158h56M1389.3 1162h8M1441.3 1162h24M1493.3 1162h36M1557.3 1162h4M1329.3 1166h20M1373.3 1166h40M1437.3 1166h24M1493.3 1166h40M1557.3 1166h12M1317.3 1170h60M1401.3 1170h20M1433.3 1170h24M1493.3 1170h44M1557.3 1170h12M1305.3 1174h20M1353.3 1174h12M1401.3 1174h52M1489.3 1174h52M1557.3 1174h72M1221.3 1178h32M1301.3 1178h12M1401.3 1178h48M1489.3 1178h56M1557.3 1178h48M1637.3 1178h4M1221.3 1182h36M1293.3 1182h12M1401.3 1182h48M1489.3 1182h56M1565.3 1182h36M1641.3 1182h8M1245.3 1186h16M1285.3 1186h16M1401.3 1186h48M1485.3 1186h16M1521.3 1186h24M1569.3 1186h28M1641.3 1186h12M1713.3 1186h28M1757.3 1186h48M1249.3 1190h16M1281.3 1190h16M1381.3 1190h68M1481.3 1190h16M1525.3 1190h20M1577.3 1190h20M1641.3 1190h16M1709.3 1190h12M1737.3 1190h80M1253.3 1194h20M1277.3 1194h20M1333.3 1194h12M1373.3 1194h80M1477.3 1194h16M1529.3 1194h16M1581.3 1194h12M1641.3 1194h16M1709.3 1194h12M1741.3 1194h16M1781.3 1194h36M1257.3 1198h36M1333.3 1198h12M1369.3 1198h56M1437.3 1198h20M1473.3 1198h16M1537.3 1198h8M1581.3 1198h8M1637.3 1198h20M1713.3 1198h8M1785.3 1198h32M1257.3 1202h36M1329.3 1202h20M1365.3 1202h16M1393.3 1202h28M1445.3 1202h40M1541.3 1202h16M1569.3 1202h20M1641.3 1202h20M1713.3 1202h12M1785.3 1202h32M1261.3 1206h32M1329.3 1206h48M1397.3 1206h16M1445.3 1206h40M1541.3 1206h52M1641.3 1206h24M1713.3 1206h12M1781.3 1206h36M1261.3 1210h32M1329.3 1210h44M1401.3 1210h8M1449.3 1210h36M1541.3 1210h52M1641.3 1210h28M1713.3 1210h12M1777.3 1210h40M1221.3 1214h8M1261.3 1214h32M1329.3 1214h36M1449.3 1214h36M1541.3 1214h56M1645.3 1214h36M1713.3 1214h16M1777.3 1214h40M1221.3 1218h12M1265.3 1218h28M1329.3 1218h28M1449.3 1218h40M1541.3 1218h20M1573.3 1218h28M1653.3 1218h40M1717.3 1218h16M1773.3 1218h28M1221.3 1222h12M1265.3 1222h24M1329.3 1222h12M1449.3 1222h44M1541.3 1222h20M1589.3 1222h20M1657.3 1222h52M1721.3 1222h12M1769.3 1222h28M1221.3 1226h16M1265.3 1226h24M1325.3 1226h12M1421.3 1226h72M1541.3 1226h20M1597.3 1226h16M1625.3 1226h16M1661.3 1226h48M1725.3 1226h12M1765.3 1226h32M1221.3 1230h20M1257.3 1230h32M1325.3 1230h12M1409.3 1230h84M1545.3 1230h24M1597.3 1230h52M1653.3 1230h56M1729.3 1230h12M1757.3 1230h36M1221.3 1234h72M1325.3 1234h12M1389.3 1234h108M1545.3 1234h32M1597.3 1234h112M1729.3 1234h12M1753.3 1234h40M1229.3 1238h72M1321.3 1238h16M1385.3 1238h112M1545.3 1238h40M1593.3 1238h116M1729.3 1238h16M1753.3 1238h40M1269.3 1242h68M1377.3 1242h28M1417.3 1242h44M1477.3 1242h24M1541.3 1242h164M1729.3 1242h12M1753.3 1242h44M1273.3 1246h64M1373.3 1246h20M1425.3 1246h32M1477.3 1246h28M1541.3 1246h160M1725.3 1246h16M1753.3 1246h44M1277.3 1250h64M1365.3 1250h24M1425.3 1250h28M1481.3 1250h28M1541.3 1250h156M1725.3 1250h12M1753.3 1250h24M1789.3 1250h12M1281.3 1254h104M1425.3 1254h28M1481.3 1254h32M1541.3 1254h156M1725.3 1254h12M1753.3 1254h24M1789.3 1254h12"/><path stroke="#313131" stroke-width="4.6" d="M1417.3 998h12M1661.3 998h12M1417.3 1002h12M1661.3 1002h8M1417.3 1006h16M1413.3 1010h20M1777.3 1010h4M1413.3 1014h24M1769.3 1014h20M1409.3 1018h28M1765.3 1018h24M1409.3 1022h32M1765.3 1022h24M1405.3 1026h36M1581.3 1026h8M1765.3 1026h24M1405.3 1030h40M1577.3 1030h12M1769.3 1030h16M1409.3 1034h44M1773.3 1034h8M1413.3 1038h12M1433.3 1038h32M1233.3 1042h32M1437.3 1042h32M1733.3 1042h8M1285.3 1046h8M1437.3 1046h32M1725.3 1046h24M1777.3 1046h4M1313.3 1050h4M1437.3 1050h36M1641.3 1050h8M1669.3 1050h20M1709.3 1050h12M1793.3 1050h24M1337.3 1054h8M1433.3 1054h16M1465.3 1054h12M1597.3 1054h24M1369.3 1058h8M1397.3 1058h40M1469.3 1058h12M1537.3 1058h40M1385.3 1062h4M1481.3 1062h48M1617.3 1086h56M1593.3 1090h8M1553.3 1094h8M1537.3 1098h12M1517.3 1102h28M1493.3 1106h8M1517.3 1106h28M1489.3 1110h12M1509.3 1110h16M1541.3 1110h8M1549.3 1114h4M1557.3 1118h4M1561.3 1122h8M1573.3 1126h4M1605.3 1126h4M1809.3 1126h8M1581.3 1130h32M1801.3 1130h16M1593.3 1134h24M1801.3 1134h16M1605.3 1138h12M1805.3 1138h12M1617.3 1142h4M1809.3 1142h8M1625.3 1146h4M1649.3 1146h8M1809.3 1146h8M1437.3 1150h40M1653.3 1150h12M1701.3 1150h12M1809.3 1150h8M1425.3 1154h24M1505.3 1154h40M1669.3 1154h48M1801.3 1154h16M1409.3 1158h36M1557.3 1158h4M1713.3 1158h12M1781.3 1158h24M1373.3 1162h16M1397.3 1162h44M1561.3 1162h8M1757.3 1162h8M1317.3 1166h12M1349.3 1166h24M1413.3 1166h24M1569.3 1166h16M1221.3 1170h28M1305.3 1170h12M1421.3 1170h12M1569.3 1170h32M1221.3 1174h40M1297.3 1174h8M1629.3 1174h4M1253.3 1178h12M1289.3 1178h12M1641.3 1178h4M1257.3 1182h36M1649.3 1182h12M1717.3 1182h20M1765.3 1182h16M1261.3 1186h24M1653.3 1186h32M1701.3 1186h12M1741.3 1186h16M1805.3 1186h12M1265.3 1190h16M1657.3 1190h32M1697.3 1190h12M1273.3 1194h4M1657.3 1194h28M1697.3 1194h12M1425.3 1198h12M1657.3 1198h24M1697.3 1198h16M1381.3 1202h12M1421.3 1202h24M1661.3 1202h20M1697.3 1202h16M1377.3 1206h20M1413.3 1206h32M1665.3 1206h20M1697.3 1206h16M1373.3 1210h28M1409.3 1210h40M1669.3 1210h44M1365.3 1214h84M1681.3 1214h32M1357.3 1218h92M1561.3 1218h12M1693.3 1218h24M1341.3 1222h108M1561.3 1222h28M1709.3 1222h12M1337.3 1226h84M1561.3 1226h36M1709.3 1226h16M1337.3 1230h28M1369.3 1230h40M1569.3 1230h28M1709.3 1230h20M1337.3 1234h52M1577.3 1234h20M1709.3 1234h20M1221.3 1238h8M1337.3 1238h48M1585.3 1238h8M1709.3 1238h20M1221.3 1242h48M1337.3 1242h40M1705.3 1242h24M1221.3 1246h52M1337.3 1246h36M1701.3 1246h24M1221.3 1250h56M1341.3 1250h24M1697.3 1250h28M1229.3 1254h16M1261.3 1254h20M1697.3 1254h28"/><path stroke="#363636" stroke-width="4.6" d="M1221.3 1042h12M1277.3 1046h8M1309.3 1050h4M1649.3 1050h20M1721.3 1050h8M1749.3 1050h44M1329.3 1054h8M1449.3 1054h16M1621.3 1054h8M1361.3 1058h8M1389.3 1058h8M1437.3 1058h32M1577.3 1058h8M1381.3 1062h4M1405.3 1062h32M1469.3 1062h12M1529.3 1062h8M1481.3 1066h36M1793.3 1082h24M1609.3 1086h8M1577.3 1090h16M1549.3 1094h4M1529.3 1098h8M1505.3 1102h12M1485.3 1106h8M1481.3 1110h8M1525.3 1110h16M1485.3 1114h28M1545.3 1114h4M1553.3 1118h4M1569.3 1126h4M1577.3 1130h4M1589.3 1134h4M1597.3 1138h8M1609.3 1142h8M1621.3 1146h4M1421.3 1150h16M1477.3 1150h24M1633.3 1150h20M1409.3 1154h16M1545.3 1154h8M1661.3 1154h8M1381.3 1158h28M1561.3 1158h4M1701.3 1158h12M1805.3 1158h12M1321.3 1162h52M1569.3 1162h8M1721.3 1162h36M1765.3 1162h24M1221.3 1166h32M1305.3 1166h12M1585.3 1166h8M1249.3 1170h16M1297.3 1170h8M1601.3 1170h8M1261.3 1174h36M1633.3 1174h8M1265.3 1178h24M1645.3 1178h8M1661.3 1182h24M1705.3 1182h12M1737.3 1182h28M1781.3 1182h36M1685.3 1186h16M1689.3 1190h8M1685.3 1194h12M1681.3 1198h16M1681.3 1202h16M1685.3 1206h12M1365.3 1230h4M1221.3 1254h8M1245.3 1254h16"/><path stroke="#3c3c3c" stroke-width="4.6" d="M1273.3 1046h4M1301.3 1050h8M1729.3 1050h20M1325.3 1054h4M1629.3 1054h4M1357.3 1058h4M1585.3 1058h8M1377.3 1062h4M1393.3 1062h12M1437.3 1062h32M1537.3 1062h8M1417.3 1066h16M1469.3 1066h12M1517.3 1066h8M1477.3 1070h32M1673.3 1082h120M1605.3 1086h4M1565.3 1090h12M1541.3 1094h8M1525.3 1098h4M1501.3 1102h4M1481.3 1106h4M1477.3 1110h4M1469.3 1114h16M1513.3 1114h16M1533.3 1114h12M1549.3 1118h4M1557.3 1122h4M1565.3 1126h4M1573.3 1130h4M1585.3 1134h4M1593.3 1138h4M1605.3 1142h4M1617.3 1146h4M1413.3 1150h8M1501.3 1150h20M1625.3 1150h8M1385.3 1154h24M1553.3 1154h4M1653.3 1154h8M1329.3 1158h28M1365.3 1158h16M1565.3 1158h4M1669.3 1158h32M1221.3 1162h24M1309.3 1162h12M1577.3 1162h4M1713.3 1162h8M1789.3 1162h28M1253.3 1166h12M1297.3 1166h8M1593.3 1166h4M1725.3 1166h56M1265.3 1170h32M1609.3 1170h20M1641.3 1174h4M1653.3 1178h8M1713.3 1178h28M1757.3 1178h36M1685.3 1182h20"/><path stroke="#414141" stroke-width="4.6" d="M1265.3 1046h8M1297.3 1050h4M1321.3 1054h4M1633.3 1054h8M1685.3 1054h28M1349.3 1058h8M1593.3 1058h12M1373.3 1062h4M1389.3 1062h4M1545.3 1062h12M1405.3 1066h12M1433.3 1066h36M1525.3 1066h4M1421.3 1070h20M1461.3 1070h16M1509.3 1070h4M1477.3 1074h16M1649.3 1082h24M1597.3 1086h8M1561.3 1090h4M1537.3 1094h4M1521.3 1098h4M1481.3 1102h20M1477.3 1106h4M1469.3 1110h8M1461.3 1114h8M1529.3 1114h4M1545.3 1118h4M1553.3 1122h4M1561.3 1126h4M1569.3 1130h4M1581.3 1134h4M1589.3 1138h4M1601.3 1142h4M1609.3 1146h8M1405.3 1150h8M1521.3 1150h16M1621.3 1150h4M1373.3 1154h12M1557.3 1154h4M1637.3 1154h16M1221.3 1158h16M1317.3 1158h12M1357.3 1158h8M1569.3 1158h4M1661.3 1158h8M1245.3 1162h20M1301.3 1162h8M1581.3 1162h8M1701.3 1162h12M1265.3 1166h32M1597.3 1166h8M1713.3 1166h12M1781.3 1166h20M1629.3 1170h8M1717.3 1170h72M1645.3 1174h4M1713.3 1174h32M1753.3 1174h40M1661.3 1178h28M1701.3 1178h12M1741.3 1178h16M1793.3 1178h24"/><path stroke="#474747" stroke-width="4.6" d="M1261.3 1046h4M1289.3 1050h8M1317.3 1054h4M1641.3 1054h4M1673.3 1054h12M1713.3 1054h8M1793.3 1054h24M1345.3 1058h4M1605.3 1058h12M1369.3 1062h4M1557.3 1062h20M1385.3 1066h4M1393.3 1066h12M1529.3 1066h4M1413.3 1070h8M1441.3 1070h20M1513.3 1070h4M1425.3 1074h52M1493.3 1074h8M1621.3 1082h28M1589.3 1086h8M1553.3 1090h8M1533.3 1094h4M1517.3 1098h4M1473.3 1102h8M1469.3 1106h8M1465.3 1110h4M1457.3 1114h4M1489.3 1118h20M1541.3 1118h4M1577.3 1134h4M1597.3 1142h4M1605.3 1146h4M1381.3 1150h24M1537.3 1150h12M1617.3 1150h4M1325.3 1154h48M1625.3 1154h12M1237.3 1158h20M1305.3 1158h12M1573.3 1158h4M1653.3 1158h8M1265.3 1162h36M1589.3 1162h4M1669.3 1162h32M1605.3 1166h28M1705.3 1166h8M1801.3 1166h16M1637.3 1170h8M1709.3 1170h8M1789.3 1170h28M1649.3 1174h12M1705.3 1174h8M1745.3 1174h8M1793.3 1174h24M1689.3 1178h12"/><path stroke="#4c4c4c" stroke-width="4.6" d="M1221.3 1046h40M1285.3 1050h4M1313.3 1054h4M1645.3 1054h28M1721.3 1054h12M1745.3 1054h48M1341.3 1058h4M1617.3 1058h8M1365.3 1062h4M1577.3 1062h8M1381.3 1066h4M1389.3 1066h4M1533.3 1066h4M1405.3 1070h8M1517.3 1070h4M1417.3 1074h8M1501.3 1074h4M1805.3 1078h12M1613.3 1082h8M1577.3 1086h12M1549.3 1090h4M1525.3 1094h8M1513.3 1098h4M1469.3 1102h4M1465.3 1106h4M1457.3 1110h8M1449.3 1114h8M1481.3 1118h8M1509.3 1118h32M1549.3 1122h4M1557.3 1126h4M1565.3 1130h4M1573.3 1134h4M1585.3 1138h4M1593.3 1142h4M1481.3 1146h24M1601.3 1146h4M1373.3 1150h8M1549.3 1150h4M1609.3 1150h8M1221.3 1154h24M1313.3 1154h12M1561.3 1154h4M1621.3 1154h4M1257.3 1158h20M1293.3 1158h12M1577.3 1158h4M1625.3 1158h28M1593.3 1162h8M1625.3 1162h16M1661.3 1162h8M1633.3 1166h12M1669.3 1166h36M1645.3 1170h8M1669.3 1170h40M1661.3 1174h44"/><path stroke="#515151" stroke-width="4.6" d="M1281.3 1050h4M1309.3 1054h4M1733.3 1054h12M1333.3 1058h8M1625.3 1058h8M1361.3 1062h4M1585.3 1062h8M1377.3 1066h4M1537.3 1066h4M1397.3 1070h8M1521.3 1070h4M1413.3 1074h4M1505.3 1074h4M1677.3 1078h68M1773.3 1078h32M1605.3 1082h8M1569.3 1086h8M1541.3 1090h8M1521.3 1094h4M1505.3 1098h8M1461.3 1102h8M1457.3 1106h8M1453.3 1110h4M1441.3 1114h8M1545.3 1122h4M1553.3 1126h4M1561.3 1130h4M1581.3 1138h4M1589.3 1142h4M1385.3 1146h8M1505.3 1146h20M1597.3 1146h4M1221.3 1150h16M1321.3 1150h52M1553.3 1150h4M1605.3 1150h4M1245.3 1154h20M1301.3 1154h12M1565.3 1154h8M1613.3 1154h8M1277.3 1158h16M1581.3 1158h12M1613.3 1158h12M1601.3 1162h24M1641.3 1162h20M1645.3 1166h24M1653.3 1170h16"/><path stroke="#575757" stroke-width="4.6" d="M1273.3 1050h8M1305.3 1054h4M1329.3 1058h4M1633.3 1058h4M1693.3 1058h16M1357.3 1062h4M1593.3 1062h12M1373.3 1066h4M1541.3 1066h8M1393.3 1070h4M1525.3 1070h4M1405.3 1074h8M1509.3 1074h4M1421.3 1078h72M1665.3 1078h12M1745.3 1078h28M1601.3 1082h4M1561.3 1086h8M1537.3 1090h4M1461.3 1098h44M1457.3 1102h4M1453.3 1106h4M1445.3 1110h8M1429.3 1114h12M1477.3 1118h4M1541.3 1122h4M1569.3 1134h4M1577.3 1138h4M1585.3 1142h4M1369.3 1146h16M1393.3 1146h20M1453.3 1146h28M1525.3 1146h12M1593.3 1146h4M1237.3 1150h16M1309.3 1150h12M1557.3 1150h4M1597.3 1150h8M1265.3 1154h36M1573.3 1154h8M1597.3 1154h16M1593.3 1158h20"/><path stroke="#5c5c5c" stroke-width="4.6" d="M1269.3 1050h4M1301.3 1054h4M1325.3 1058h4M1637.3 1058h8M1677.3 1058h16M1709.3 1058h16M1793.3 1058h24M1353.3 1062h4M1605.3 1062h12M1549.3 1066h28M1385.3 1070h8M1529.3 1070h4M1401.3 1074h4M1513.3 1074h4M1413.3 1078h8M1493.3 1078h8M1625.3 1078h40M1589.3 1082h12M1557.3 1086h4M1533.3 1090h4M1517.3 1094h4M1453.3 1098h8M1453.3 1102h4M1449.3 1106h4M1437.3 1110h8M1417.3 1114h12M1473.3 1118h4M1493.3 1122h20M1537.3 1122h4M1549.3 1126h4M1557.3 1130h4M1565.3 1134h4M1573.3 1138h4M1581.3 1142h4M1221.3 1146h24M1317.3 1146h52M1413.3 1146h16M1433.3 1146h20M1537.3 1146h16M1585.3 1146h8M1253.3 1150h28M1293.3 1150h16M1561.3 1150h8M1585.3 1150h12M1581.3 1154h16"/><path stroke="#626262" stroke-width="4.6" d="M1265.3 1050h4M1297.3 1054h4M1321.3 1058h4M1645.3 1058h32M1725.3 1058h68M1349.3 1062h4M1617.3 1062h8M1369.3 1066h4M1577.3 1066h12M1381.3 1070h4M1533.3 1070h4M1393.3 1074h8M1517.3 1074h4M1685.3 1074h40M1797.3 1074h20M1409.3 1078h4M1501.3 1078h8M1609.3 1078h16M1425.3 1082h12M1573.3 1082h16M1549.3 1086h8M1525.3 1090h8M1449.3 1098h4M1445.3 1102h8M1441.3 1106h8M1429.3 1110h8M1409.3 1114h8M1465.3 1118h8M1485.3 1122h8M1513.3 1122h24M1545.3 1126h4M1553.3 1130h4M1561.3 1134h4M1569.3 1138h4M1221.3 1142h12M1485.3 1142h32M1573.3 1142h8M1245.3 1146h20M1305.3 1146h12M1429.3 1146h4M1553.3 1146h4M1577.3 1146h8M1281.3 1150h12M1569.3 1150h16"/><path stroke="#676767" stroke-width="4.6" d="M1245.3 1050h20M1289.3 1054h8M1317.3 1058h4M1345.3 1062h4M1625.3 1062h8M1685.3 1062h32M1365.3 1066h4M1589.3 1066h16M1377.3 1070h4M1537.3 1070h4M1389.3 1074h4M1521.3 1074h4M1673.3 1074h12M1725.3 1074h72M1401.3 1078h8M1509.3 1078h4M1597.3 1078h12M1417.3 1082h8M1437.3 1082h60M1569.3 1082h4M1541.3 1086h8M1521.3 1090h4M1441.3 1094h48M1513.3 1094h4M1441.3 1098h8M1441.3 1102h4M1437.3 1106h4M1421.3 1110h8M1401.3 1114h8M1461.3 1118h4M1481.3 1122h4M1541.3 1126h4M1557.3 1134h4M1561.3 1138h8M1233.3 1142h20M1313.3 1142h52M1481.3 1142h4M1517.3 1142h12M1565.3 1142h8M1265.3 1146h40M1557.3 1146h20"/><path stroke="#6d6d6d" stroke-width="4.6" d="M1221.3 1050h24M1281.3 1054h8M1313.3 1058h4M1341.3 1062h4M1633.3 1062h4M1673.3 1062h12M1717.3 1062h8M1753.3 1062h64M1361.3 1066h4M1605.3 1066h20M1685.3 1066h36M1801.3 1066h16M1373.3 1070h4M1541.3 1070h4M1565.3 1070h28M1613.3 1070h4M1681.3 1070h40M1801.3 1070h16M1385.3 1074h4M1525.3 1074h8M1605.3 1074h68M1397.3 1078h4M1513.3 1078h8M1577.3 1078h20M1409.3 1082h8M1497.3 1082h12M1561.3 1082h8M1421.3 1086h68M1533.3 1086h8M1429.3 1090h56M1517.3 1090h4M1433.3 1094h8M1489.3 1094h4M1509.3 1094h4M1437.3 1098h4M1433.3 1102h8M1429.3 1106h8M1413.3 1110h8M1397.3 1114h4M1381.3 1118h16M1509.3 1126h8M1537.3 1126h4M1545.3 1130h8M1553.3 1134h4M1221.3 1138h28M1321.3 1138h16M1341.3 1138h20M1553.3 1138h8M1253.3 1142h36M1293.3 1142h20M1365.3 1142h4M1529.3 1142h36"/><path stroke="#727272" stroke-width="4.6" d="M1277.3 1054h4M1309.3 1058h4M1333.3 1062h8M1637.3 1062h4M1661.3 1062h12M1725.3 1062h28M1357.3 1066h4M1625.3 1066h12M1669.3 1066h16M1745.3 1066h36M1797.3 1066h4M1545.3 1070h20M1593.3 1070h20M1617.3 1070h20M1669.3 1070h12M1721.3 1070h4M1741.3 1070h40M1797.3 1070h4M1381.3 1074h4M1533.3 1074h4M1573.3 1074h32M1393.3 1078h4M1521.3 1078h8M1573.3 1078h4M1405.3 1082h4M1509.3 1082h16M1553.3 1082h8M1417.3 1086h4M1489.3 1086h4M1509.3 1086h24M1421.3 1090h8M1485.3 1090h4M1513.3 1090h4M1429.3 1094h4M1493.3 1094h4M1429.3 1098h8M1429.3 1102h4M1421.3 1106h8M1405.3 1110h8M1389.3 1114h8M1369.3 1118h12M1397.3 1118h20M1457.3 1118h4M1485.3 1126h24M1517.3 1126h20M1541.3 1130h4M1221.3 1134h24M1353.3 1134h8M1545.3 1134h8M1249.3 1138h24M1305.3 1138h16M1337.3 1138h4M1361.3 1138h4M1485.3 1138h36M1541.3 1138h12M1289.3 1142h4M1369.3 1142h8"/><path stroke="#777777" stroke-width="4.6" d="M1273.3 1054h4M1305.3 1058h4M1329.3 1062h4M1641.3 1062h4M1657.3 1062h4M1353.3 1066h4M1661.3 1066h8M1721.3 1066h4M1741.3 1066h4M1369.3 1070h4M1637.3 1070h4M1657.3 1070h12M1737.3 1070h4M1537.3 1074h4M1569.3 1074h4M1389.3 1078h4M1529.3 1078h8M1569.3 1078h4M1401.3 1082h4M1525.3 1082h28M1409.3 1086h8M1493.3 1086h16M1417.3 1090h4M1489.3 1090h4M1421.3 1094h8M1497.3 1094h12M1425.3 1098h4M1421.3 1102h8M1413.3 1106h8M1401.3 1110h4M1385.3 1114h4M1233.3 1118h28M1361.3 1118h8M1417.3 1118h8M1441.3 1118h16M1353.3 1122h12M1357.3 1126h4M1481.3 1126h4M1221.3 1130h28M1349.3 1130h12M1485.3 1130h36M1537.3 1130h4M1245.3 1134h28M1305.3 1134h48M1361.3 1134h4M1485.3 1134h36M1537.3 1134h8M1273.3 1138h32M1481.3 1138h4M1521.3 1138h20M1377.3 1142h8"/><path stroke="#7d7d7d" stroke-width="4.6" d="M1265.3 1054h8M1297.3 1058h8M1325.3 1062h4M1645.3 1062h4M1653.3 1062h4M1349.3 1066h4M1637.3 1066h4M1781.3 1066h4M1365.3 1070h4M1641.3 1070h4M1653.3 1070h4M1725.3 1070h4M1781.3 1070h4M1377.3 1074h4M1385.3 1078h4M1537.3 1078h4M1393.3 1082h8M1405.3 1086h4M1413.3 1090h4M1509.3 1090h4M1417.3 1094h4M1417.3 1098h8M1417.3 1102h4M1409.3 1106h4M1393.3 1110h8M1377.3 1114h8M1221.3 1118h12M1261.3 1118h100M1425.3 1118h16M1221.3 1122h44M1309.3 1122h44M1365.3 1122h8M1477.3 1122h4M1221.3 1126h44M1309.3 1126h48M1361.3 1126h4M1249.3 1130h36M1301.3 1130h48M1361.3 1130h4M1481.3 1130h4M1521.3 1130h16M1273.3 1134h32M1481.3 1134h4M1521.3 1134h8M1533.3 1134h4M1385.3 1142h4M1473.3 1142h8"/><path stroke="#828282" stroke-width="4.6" d="M1253.3 1054h12M1289.3 1058h8M1317.3 1062h8M1649.3 1062h4M1345.3 1066h4M1657.3 1066h4M1737.3 1066h4M1793.3 1066h4M1361.3 1070h4M1645.3 1070h8M1729.3 1070h8M1793.3 1070h4M1373.3 1074h4M1541.3 1074h4M1565.3 1074h4M1381.3 1078h4M1541.3 1078h4M1565.3 1078h4M1389.3 1082h4M1401.3 1086h4M1409.3 1090h4M1493.3 1090h4M1413.3 1094h4M1413.3 1098h4M1409.3 1102h8M1401.3 1106h8M1389.3 1110h4M1221.3 1114h52M1373.3 1114h4M1265.3 1122h44M1373.3 1122h4M1473.3 1122h4M1265.3 1126h44M1285.3 1130h16M1529.3 1134h4M1365.3 1138h4M1389.3 1142h8M1469.3 1142h4"/><path stroke="#888888" stroke-width="4.6" d="M1221.3 1054h32M1281.3 1058h8M1313.3 1062h4M1341.3 1066h4M1725.3 1066h4M1785.3 1066h8M1357.3 1070h4M1785.3 1070h8M1369.3 1074h4M1377.3 1078h4M1385.3 1082h4M1393.3 1086h8M1401.3 1090h8M1497.3 1090h4M1505.3 1090h4M1405.3 1094h8M1409.3 1098h4M1405.3 1102h4M1397.3 1106h4M1385.3 1110h4M1273.3 1114h28M1365.3 1114h8M1377.3 1122h8M1469.3 1122h4M1365.3 1126h8M1365.3 1130h4M1365.3 1134h4M1369.3 1138h8M1397.3 1142h4M1461.3 1142h8"/><path stroke="#8d8d8d" stroke-width="4.6" d="M1277.3 1058h4M1309.3 1062h4M1333.3 1066h8M1641.3 1066h4M1733.3 1066h4M1353.3 1070h4M1365.3 1074h4M1545.3 1074h4M1561.3 1074h4M1545.3 1078h4M1561.3 1078h4M1389.3 1086h4M1397.3 1090h4M1501.3 1090h4M1401.3 1094h4M1401.3 1098h8M1401.3 1102h4M1389.3 1106h8M1377.3 1110h8M1301.3 1114h24M1357.3 1114h8M1385.3 1122h4M1465.3 1122h4M1373.3 1126h4M1477.3 1126h4M1369.3 1130h8M1477.3 1130h4M1369.3 1134h8M1477.3 1134h4M1377.3 1138h4M1477.3 1138h4M1401.3 1142h8M1453.3 1142h8"/><path stroke="#929292" stroke-width="4.6" d="M1269.3 1058h8M1301.3 1062h8M1329.3 1066h4M1653.3 1066h4M1729.3 1066h4M1349.3 1070h4M1361.3 1074h4M1549.3 1074h12M1373.3 1078h4M1549.3 1078h12M1381.3 1082h4M1385.3 1086h4M1393.3 1090h4M1397.3 1094h4M1397.3 1098h4M1393.3 1102h8M1385.3 1106h4M1373.3 1110h4M1325.3 1114h32M1389.3 1122h4M1461.3 1122h4M1377.3 1126h4M1473.3 1126h4M1377.3 1130h4M1473.3 1130h4M1377.3 1134h4M1473.3 1134h4M1381.3 1138h4M1473.3 1138h4M1409.3 1142h12M1441.3 1142h12"/><path stroke="#989898" stroke-width="4.6" d="M1261.3 1058h8M1293.3 1062h8M1321.3 1066h8M1645.3 1066h8M1345.3 1070h4M1369.3 1078h4M1377.3 1082h4M1389.3 1090h4M1393.3 1094h4M1393.3 1098h4M1389.3 1102h4M1381.3 1106h4M1221.3 1110h48M1369.3 1110h4M1393.3 1122h8M1381.3 1126h4M1469.3 1126h4M1381.3 1130h4M1469.3 1130h4M1381.3 1134h4M1469.3 1134h4M1385.3 1138h4M1469.3 1138h4M1421.3 1142h20"/><path stroke="#9d9d9d" stroke-width="4.6" d="M1221.3 1058h40M1285.3 1062h8M1313.3 1066h8M1341.3 1070h4M1357.3 1074h4M1365.3 1078h4M1373.3 1082h4M1381.3 1086h4M1385.3 1090h4M1389.3 1094h4M1389.3 1098h4M1385.3 1102h4M1377.3 1106h4M1269.3 1110h28M1365.3 1110h4M1401.3 1122h8M1457.3 1122h4M1385.3 1126h4M1465.3 1126h4M1385.3 1130h4M1465.3 1130h4M1385.3 1134h4M1465.3 1134h4M1389.3 1138h8M1465.3 1138h4"/><path stroke="#a3a3a3" stroke-width="4.6" d="M1277.3 1062h8M1309.3 1066h4M1333.3 1070h8M1353.3 1074h4M1361.3 1078h4M1377.3 1086h4M1381.3 1090h4M1385.3 1094h4M1385.3 1098h4M1381.3 1102h4M1373.3 1106h4M1297.3 1110h20M1357.3 1110h8M1409.3 1122h8M1445.3 1122h12M1389.3 1126h8M1461.3 1126h4M1389.3 1130h4M1389.3 1134h4M1397.3 1138h4M1461.3 1138h4"/><path stroke="#a8a8a8" stroke-width="4.6" d="M1269.3 1062h8M1301.3 1066h8M1329.3 1070h4M1349.3 1074h4M1369.3 1082h4M1373.3 1086h4M1377.3 1090h4M1381.3 1094h4M1381.3 1098h4M1377.3 1102h4M1369.3 1106h4M1317.3 1110h20M1345.3 1110h12M1417.3 1122h8M1433.3 1122h12M1397.3 1126h4M1457.3 1126h4M1393.3 1130h4M1461.3 1130h4M1393.3 1134h8M1461.3 1134h4M1401.3 1138h8M1457.3 1138h4"/><path stroke="#aeaeae" stroke-width="4.6" d="M1261.3 1062h8M1293.3 1066h8M1321.3 1070h8M1345.3 1074h4M1357.3 1078h4M1365.3 1082h4M1377.3 1094h4M1377.3 1098h4M1373.3 1102h4M1221.3 1106h44M1365.3 1106h4M1337.3 1110h8M1425.3 1122h8M1401.3 1126h8M1453.3 1126h4M1397.3 1130h12M1457.3 1130h4M1401.3 1134h8M1457.3 1134h4M1409.3 1138h8M1445.3 1138h12"/><path stroke="#b3b3b3" stroke-width="4.6" d="M1221.3 1062h40M1281.3 1066h12M1313.3 1070h8M1341.3 1074h4M1353.3 1078h4M1361.3 1082h4M1369.3 1086h4M1373.3 1090h4M1373.3 1094h4M1373.3 1098h4M1369.3 1102h4M1265.3 1106h28M1361.3 1106h4M1409.3 1126h8M1445.3 1126h8M1409.3 1130h8M1449.3 1130h8M1409.3 1134h8M1449.3 1134h8M1417.3 1138h8M1437.3 1138h8"/><path stroke="#b8b8b8" stroke-width="4.6" d="M1273.3 1066h8M1305.3 1070h8M1333.3 1074h8M1349.3 1078h4M1357.3 1082h4M1365.3 1086h4M1369.3 1090h4M1365.3 1102h4M1293.3 1106h24M1353.3 1106h8M1417.3 1126h8M1433.3 1126h12M1417.3 1130h8M1437.3 1130h12M1417.3 1134h8M1437.3 1134h12M1425.3 1138h12"/><path stroke="#bebebe" stroke-width="4.6" d="M1265.3 1066h8M1297.3 1070h8M1321.3 1074h12M1345.3 1078h4M1353.3 1082h4M1361.3 1086h4M1365.3 1090h4M1369.3 1094h4M1369.3 1098h4M1361.3 1102h4M1317.3 1106h16M1341.3 1106h12M1425.3 1126h8M1425.3 1130h12M1425.3 1134h12"/><path stroke="#c3c3c3" stroke-width="4.6" d="M1237.3 1066h28M1285.3 1070h12M1313.3 1074h8M1341.3 1078h4M1349.3 1082h4M1357.3 1086h4M1365.3 1094h4M1365.3 1098h4M1221.3 1102h44M1357.3 1102h4M1333.3 1106h8"/><path stroke="#c9c9c9" stroke-width="4.6" d="M1221.3 1066h16M1277.3 1070h8M1305.3 1074h8M1333.3 1078h8M1345.3 1082h4M1353.3 1086h4M1361.3 1090h4M1361.3 1094h4M1361.3 1098h4M1265.3 1102h32M1349.3 1102h8"/><path stroke="#cecece" stroke-width="4.6" d="M1265.3 1070h12M1297.3 1074h8M1321.3 1078h12M1341.3 1082h4M1349.3 1086h4M1357.3 1090h4M1357.3 1094h4M1353.3 1098h8M1297.3 1102h28M1345.3 1102h4"/><path stroke="#d4d4d4" stroke-width="4.6" d="M1241.3 1070h24M1285.3 1074h12M1313.3 1078h8M1337.3 1082h4M1345.3 1086h4M1353.3 1090h4M1353.3 1094h4M1349.3 1098h4M1325.3 1102h20"/><path stroke="#d9d9d9" stroke-width="4.6" d="M1221.3 1070h20M1273.3 1074h12M1301.3 1078h12M1325.3 1082h12M1341.3 1086h4M1345.3 1090h8M1349.3 1094h4M1221.3 1098h64M1345.3 1098h4"/><path stroke="#dedede" stroke-width="4.6" d="M1261.3 1074h12M1289.3 1078h12M1313.3 1082h12M1333.3 1086h8M1341.3 1090h4M1345.3 1094h4M1285.3 1098h60"/><path stroke="#e4e4e4" stroke-width="4.6" d="M1221.3 1074h40M1273.3 1078h16M1301.3 1082h12M1317.3 1086h16M1333.3 1090h8M1333.3 1094h12"/><path stroke="#e9e9e9" stroke-width="4.6" d="M1257.3 1078h16M1281.3 1082h20M1305.3 1086h12M1309.3 1090h24M1221.3 1094h112"/><path stroke="#efefef" stroke-width="4.6" d="M1221.3 1078h36M1261.3 1082h20M1273.3 1086h32M1245.3 1090h64"/><path stroke="#f4f4f4" stroke-width="4.6" d="M1221.3 1082h40M1221.3 1086h52M1221.3 1090h24"/></g>
</g></g>
<rect x="1725.5" y="1008.4" width="79.5" height="233.6" fill="none" stroke="#ea3a3c" stroke-width="6" stroke-dasharray="13 7.5"/>
<text x="1371" y="1055.5" font-size="53" fill="#fff"><tspan font-style="italic">B</tspan><tspan font-size="27" dy="10">3</tspan><tspan dy="-10" dx="14" font-size="52">= 51.3 mT</tspan></text>
<text x="965.5" y="154.5" font-size="70" font-weight="bold">c</text>
<text x="963.5" y="585" font-size="70" font-weight="bold">d</text>
<text x="965" y="1015.5" font-size="70" font-weight="bold">e</text>
<text x="1980" y="28.4" font-size="39" text-anchor="middle">Integrated BLS</text>
<text x="1980" y="72" font-size="39" text-anchor="middle">intensity (a.u.)</text>
<rect x="1896.7" y="133.5" width="135.6" height="269" fill="#fff" stroke="#222" stroke-width="1.6"/>
<line x1="1896.7" y1="133.5" x2="1896.7" y2="130.5" stroke="#222" stroke-width="1.4"/>
<line x1="1930.6" y1="133.5" x2="1930.6" y2="131.5" stroke="#222" stroke-width="1.4"/>
<line x1="1964.5" y1="133.5" x2="1964.5" y2="130.5" stroke="#222" stroke-width="1.4"/>
<line x1="1998.4" y1="133.5" x2="1998.4" y2="131.5" stroke="#222" stroke-width="1.4"/>
<line x1="2032.3" y1="133.5" x2="2032.3" y2="130.5" stroke="#222" stroke-width="1.4"/>
<line x1="2032.3" y1="133.5" x2="2035.8" y2="133.5" stroke="#222" stroke-width="1.4"/>
<line x1="2032.3" y1="200.8" x2="2035.8" y2="200.8" stroke="#222" stroke-width="1.4"/>
<line x1="2032.3" y1="268" x2="2035.8" y2="268" stroke="#222" stroke-width="1.4"/>
<line x1="2032.3" y1="335.2" x2="2035.8" y2="335.2" stroke="#222" stroke-width="1.4"/>
<line x1="2032.3" y1="402.5" x2="2035.8" y2="402.5" stroke="#222" stroke-width="1.4"/>
<text x="0" y="0" transform="translate(1884.2 130) rotate(90)" font-size="35" text-anchor="end">0</text>
<text x="0" y="0" transform="translate(1952 130) rotate(90)" font-size="35" text-anchor="end">0.5</text>
<text x="0" y="0" transform="translate(2019.8 130) rotate(90)" font-size="35" text-anchor="end">1.0</text>
<text x="0" y="0" transform="translate(2051.5 133.5) rotate(90)" font-size="34" text-anchor="middle">-2.25</text>
<text x="0" y="0" transform="translate(2051.5 268) rotate(90)" font-size="34" text-anchor="middle">0</text>
<text x="0" y="0" transform="translate(2051.5 402.5) rotate(90)" font-size="34" text-anchor="middle">2.25</text>
<text x="0" y="0" transform="translate(2091.5 269) rotate(90)" font-size="39" text-anchor="middle">Distance (µm)</text>
<polyline points="1907.4,135 1907.4,149 1907.4,163 1907.4,177 1911.2,191 1921,205 1921,219 1909.7,233 1908.3,247 1907.4,261 1909.1,275 1929.8,289 1980.6,303 2008.1,317 1919.2,331 1915.6,345 1907.4,359 1907.4,373 1907.4,387 1907.4,401" fill="none" stroke="#111" stroke-width="1.8" stroke-linejoin="round"/>
<rect x="1902.9" y="130.5" width="9" height="9" fill="#111"/>
<rect x="1902.9" y="144.5" width="9" height="9" fill="#111"/>
<rect x="1902.9" y="158.5" width="9" height="9" fill="#111"/>
<rect x="1902.9" y="172.5" width="9" height="9" fill="#111"/>
<rect x="1906.7" y="186.5" width="9" height="9" fill="#111"/>
<rect x="1916.5" y="200.5" width="9" height="9" fill="#111"/>
<rect x="1916.5" y="214.5" width="9" height="9" fill="#111"/>
<rect x="1905.2" y="228.5" width="9" height="9" fill="#111"/>
<rect x="1903.8" y="242.5" width="9" height="9" fill="#111"/>
<rect x="1902.9" y="256.5" width="9" height="9" fill="#111"/>
<rect x="1904.6" y="270.5" width="9" height="9" fill="#111"/>
<rect x="1925.3" y="284.5" width="9" height="9" fill="#111"/>
<rect x="1976.1" y="298.5" width="9" height="9" fill="#111"/>
<rect x="2003.6" y="312.5" width="9" height="9" fill="#111"/>
<rect x="1914.7" y="326.5" width="9" height="9" fill="#111"/>
<rect x="1911.1" y="340.5" width="9" height="9" fill="#111"/>
<rect x="1902.9" y="354.5" width="9" height="9" fill="#111"/>
<rect x="1902.9" y="368.5" width="9" height="9" fill="#111"/>
<rect x="1902.9" y="382.5" width="9" height="9" fill="#111"/>
<rect x="1902.9" y="396.5" width="9" height="9" fill="#111"/>
<text x="1980" y="469.8" font-size="39" text-anchor="middle">Integrated BLS</text>
<text x="1980" y="512.5" font-size="39" text-anchor="middle">intensity (a.u.)</text>
<rect x="1896.5" y="585.7" width="135" height="230.5" fill="#fff" stroke="#222" stroke-width="1.6"/>
<line x1="1896.5" y1="585.7" x2="1896.5" y2="582.7" stroke="#222" stroke-width="1.4"/>
<line x1="1930.2" y1="585.7" x2="1930.2" y2="583.7" stroke="#222" stroke-width="1.4"/>
<line x1="1964" y1="585.7" x2="1964" y2="582.7" stroke="#222" stroke-width="1.4"/>
<line x1="1997.8" y1="585.7" x2="1997.8" y2="583.7" stroke="#222" stroke-width="1.4"/>
<line x1="2031.5" y1="585.7" x2="2031.5" y2="582.7" stroke="#222" stroke-width="1.4"/>
<line x1="2031.5" y1="585.7" x2="2035" y2="585.7" stroke="#222" stroke-width="1.4"/>
<line x1="2031.5" y1="643.3" x2="2035" y2="643.3" stroke="#222" stroke-width="1.4"/>
<line x1="2031.5" y1="701" x2="2035" y2="701" stroke="#222" stroke-width="1.4"/>
<line x1="2031.5" y1="758.6" x2="2035" y2="758.6" stroke="#222" stroke-width="1.4"/>
<line x1="2031.5" y1="816.2" x2="2035" y2="816.2" stroke="#222" stroke-width="1.4"/>
<text x="0" y="0" transform="translate(1884 579.7) rotate(90)" font-size="35" text-anchor="end">0</text>
<text x="0" y="0" transform="translate(1951.5 579.7) rotate(90)" font-size="35" text-anchor="end">0.5</text>
<text x="0" y="0" transform="translate(2019 579.7) rotate(90)" font-size="35" text-anchor="end">1.0</text>
<text x="0" y="0" transform="translate(2051.5 585.7) rotate(90)" font-size="34" text-anchor="middle">-2</text>
<text x="0" y="0" transform="translate(2051.5 701) rotate(90)" font-size="34" text-anchor="middle">0</text>
<text x="0" y="0" transform="translate(2051.5 816.2) rotate(90)" font-size="34" text-anchor="middle">2</text>
<text x="0" y="0" transform="translate(2091.5 702) rotate(90)" font-size="39" text-anchor="middle">Distance (µm)</text>
<polyline points="1907.7,587.2 1907.7,599.2 1909.2,611.1 1913.8,623.1 1927.7,635.1 1943.4,647.1 1922.8,659 1911,671 1909.2,683 1907.7,695 1909.2,706.9 1916.8,718.9 1942.8,730.9 1950,742.9 1916.8,754.8 1910.1,766.8 1909.2,778.8 1907.7,790.8 1906.2,802.7 1906.2,814.7" fill="none" stroke="#111" stroke-width="1.8" stroke-linejoin="round"/>
<rect x="1903.2" y="582.7" width="9" height="9" fill="#111"/>
<rect x="1903.2" y="594.7" width="9" height="9" fill="#111"/>
<rect x="1904.7" y="606.6" width="9" height="9" fill="#111"/>
<rect x="1909.3" y="618.6" width="9" height="9" fill="#111"/>
<rect x="1923.2" y="630.6" width="9" height="9" fill="#111"/>
<rect x="1938.9" y="642.6" width="9" height="9" fill="#111"/>
<rect x="1918.3" y="654.5" width="9" height="9" fill="#111"/>
<rect x="1906.5" y="666.5" width="9" height="9" fill="#111"/>
<rect x="1904.7" y="678.5" width="9" height="9" fill="#111"/>
<rect x="1903.2" y="690.5" width="9" height="9" fill="#111"/>
<rect x="1904.7" y="702.4" width="9" height="9" fill="#111"/>
<rect x="1912.3" y="714.4" width="9" height="9" fill="#111"/>
<rect x="1938.3" y="726.4" width="9" height="9" fill="#111"/>
<rect x="1945.5" y="738.4" width="9" height="9" fill="#111"/>
<rect x="1912.3" y="750.3" width="9" height="9" fill="#111"/>
<rect x="1905.6" y="762.3" width="9" height="9" fill="#111"/>
<rect x="1904.7" y="774.3" width="9" height="9" fill="#111"/>
<rect x="1903.2" y="786.3" width="9" height="9" fill="#111"/>
<rect x="1901.7" y="798.2" width="9" height="9" fill="#111"/>
<rect x="1901.7" y="810.2" width="9" height="9" fill="#111"/>
<text x="1980" y="897.8" font-size="39" text-anchor="middle">Integrated BLS</text>
<text x="1980" y="941" font-size="39" text-anchor="middle">intensity (a.u.)</text>
<rect x="1896.5" y="1006" width="135" height="237.4" fill="#fff" stroke="#222" stroke-width="1.6"/>
<line x1="1896.5" y1="1006" x2="1896.5" y2="1003" stroke="#222" stroke-width="1.4"/>
<line x1="1930.2" y1="1006" x2="1930.2" y2="1004" stroke="#222" stroke-width="1.4"/>
<line x1="1964" y1="1006" x2="1964" y2="1003" stroke="#222" stroke-width="1.4"/>
<line x1="1997.8" y1="1006" x2="1997.8" y2="1004" stroke="#222" stroke-width="1.4"/>
<line x1="2031.5" y1="1006" x2="2031.5" y2="1003" stroke="#222" stroke-width="1.4"/>
<line x1="2031.5" y1="1006" x2="2035" y2="1006" stroke="#222" stroke-width="1.4"/>
<line x1="2031.5" y1="1065.3" x2="2035" y2="1065.3" stroke="#222" stroke-width="1.4"/>
<line x1="2031.5" y1="1124.7" x2="2035" y2="1124.7" stroke="#222" stroke-width="1.4"/>
<line x1="2031.5" y1="1184.1" x2="2035" y2="1184.1" stroke="#222" stroke-width="1.4"/>
<line x1="2031.5" y1="1243.4" x2="2035" y2="1243.4" stroke="#222" stroke-width="1.4"/>
<text x="0" y="0" transform="translate(1884 1000) rotate(90)" font-size="35" text-anchor="end">0</text>
<text x="0" y="0" transform="translate(1951.5 1000) rotate(90)" font-size="35" text-anchor="end">0.5</text>
<text x="0" y="0" transform="translate(2019 1000) rotate(90)" font-size="35" text-anchor="end">1.0</text>
<text x="0" y="0" transform="translate(2051.5 1006) rotate(90)" font-size="34" text-anchor="middle">-2</text>
<text x="0" y="0" transform="translate(2051.5 1124.7) rotate(90)" font-size="34" text-anchor="middle">0</text>
<text x="0" y="0" transform="translate(2051.5 1243.4) rotate(90)" font-size="34" text-anchor="middle">2</text>
<text x="0" y="0" transform="translate(2091.5 1125.7) rotate(90)" font-size="39" text-anchor="middle">Distance (µm)</text>
<polyline points="1907.7,1007.5 1907.7,1019.8 1908.6,1032.2 1914.7,1044.5 1935.2,1056.8 1982.1,1069.2 1949.4,1081.5 1912.2,1093.9 1913.8,1106.2 1909.2,1118.5 1908.6,1130.9 1910.1,1143.2 1914.7,1155.5 1918.3,1167.9 1912.2,1180.2 1908.6,1192.6 1909.2,1204.9 1909.2,1217.2 1908.6,1229.6 1907.7,1241.9" fill="none" stroke="#111" stroke-width="1.8" stroke-linejoin="round"/>
<rect x="1903.2" y="1003" width="9" height="9" fill="#111"/>
<rect x="1903.2" y="1015.3" width="9" height="9" fill="#111"/>
<rect x="1904.1" y="1027.7" width="9" height="9" fill="#111"/>
<rect x="1910.2" y="1040" width="9" height="9" fill="#111"/>
<rect x="1930.7" y="1052.3" width="9" height="9" fill="#111"/>
<rect x="1977.6" y="1064.7" width="9" height="9" fill="#111"/>
<rect x="1944.9" y="1077" width="9" height="9" fill="#111"/>
<rect x="1907.7" y="1089.4" width="9" height="9" fill="#111"/>
<rect x="1909.3" y="1101.7" width="9" height="9" fill="#111"/>
<rect x="1904.7" y="1114" width="9" height="9" fill="#111"/>
<rect x="1904.1" y="1126.4" width="9" height="9" fill="#111"/>
<rect x="1905.6" y="1138.7" width="9" height="9" fill="#111"/>
<rect x="1910.2" y="1151" width="9" height="9" fill="#111"/>
<rect x="1913.8" y="1163.4" width="9" height="9" fill="#111"/>
<rect x="1907.7" y="1175.7" width="9" height="9" fill="#111"/>
<rect x="1904.1" y="1188.1" width="9" height="9" fill="#111"/>
<rect x="1904.7" y="1200.4" width="9" height="9" fill="#111"/>
<rect x="1904.7" y="1212.7" width="9" height="9" fill="#111"/>
<rect x="1904.1" y="1225.1" width="9" height="9" fill="#111"/>
<rect x="1903.2" y="1237.4" width="9" height="9" fill="#111"/>
<rect x="1552.8" y="1354.4" width="323" height="29.6" fill="url(#cbar)"/>
<line x1="1617.3" y1="1384" x2="1617.3" y2="1380" stroke="#003" stroke-width="1.2"/>
<line x1="1649.7" y1="1384" x2="1649.7" y2="1380" stroke="#003" stroke-width="1.2"/>
<line x1="1682.1" y1="1384" x2="1682.1" y2="1380" stroke="#003" stroke-width="1.2"/>
<line x1="1714.6" y1="1384" x2="1714.6" y2="1380" stroke="#003" stroke-width="1.2"/>
<line x1="1747" y1="1384" x2="1747" y2="1380" stroke="#003" stroke-width="1.2"/>
<line x1="1779.4" y1="1384" x2="1779.4" y2="1380" stroke="#003" stroke-width="1.2"/>
<line x1="1811.8" y1="1384" x2="1811.8" y2="1380" stroke="#003" stroke-width="1.2"/>
<text x="1717" y="1338.3" font-size="39" text-anchor="middle">BLS intensity (log.)</text>
<text x="1548.5" y="1421" font-size="39" text-anchor="middle">4</text>
<text x="1874.5" y="1421" font-size="39" text-anchor="middle">9</text>
</svg></body></html>
